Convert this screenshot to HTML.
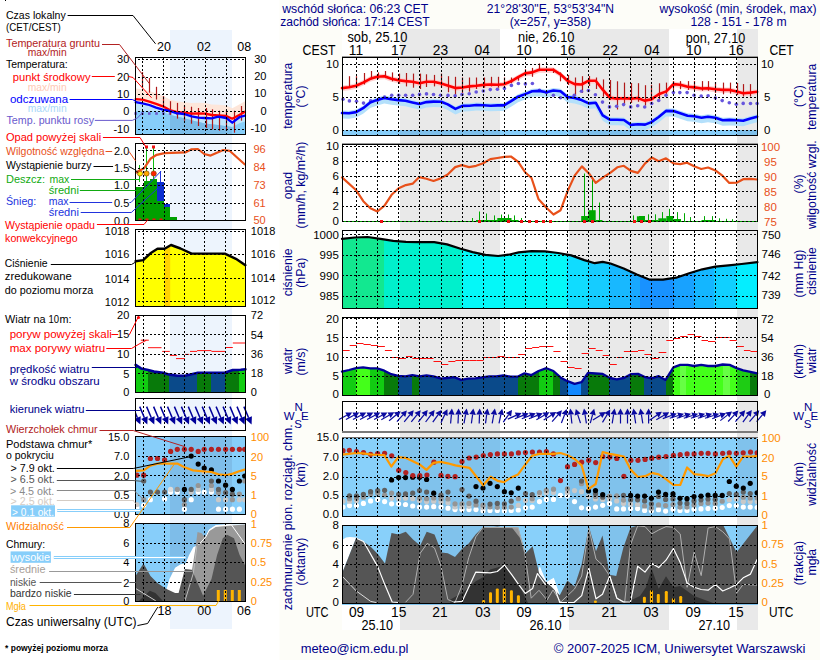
<!DOCTYPE html>
<html><head><meta charset="utf-8"><style>
html,body{margin:0;padding:0;background:#fff;}
svg{display:block;}
text{font-family:"Liberation Sans",sans-serif;}
</style></head><body>
<svg width="820" height="660" viewBox="0 0 820 660">
<rect x="0" y="0" width="820" height="660" fill="#ffffff"/>
<rect x="279.5" y="0" width="540.5" height="660" fill="#fdfdf8"/>
<rect x="342" y="29" width="416" height="601" fill="#ffffff" />
<rect x="400" y="29" width="100" height="601" fill="#e9e9e9" />
<rect x="569" y="29" width="100" height="601" fill="#e9e9e9" />
<rect x="737" y="29" width="21" height="601" fill="#e9e9e9" />
<rect x="170" y="30" width="62" height="599" fill="#edf4fd" />
<rect x="135" y="57" width="110" height="77" fill="#ffffff" />
<rect x="170" y="57" width="62" height="77" fill="#edf4fd" />
<rect x="135" y="143" width="110" height="77" fill="#ffffff" />
<rect x="170" y="143" width="62" height="77" fill="#edf4fd" />
<rect x="135" y="229" width="110" height="77" fill="#ffffff" />
<rect x="170" y="229" width="62" height="77" fill="#edf4fd" />
<rect x="135" y="315" width="110" height="77" fill="#ffffff" />
<rect x="170" y="315" width="62" height="77" fill="#edf4fd" />
<rect x="135" y="398" width="110" height="32" fill="#ffffff" />
<rect x="170" y="398" width="62" height="32" fill="#edf4fd" />
<rect x="135" y="436" width="110" height="78" fill="#ffffff" />
<rect x="170" y="436" width="62" height="78" fill="#edf4fd" />
<rect x="135" y="523" width="110" height="78" fill="#ffffff" />
<rect x="170" y="523" width="62" height="78" fill="#edf4fd" />
<rect x="343" y="130" width="414" height="5" fill="#87cefa" />
<rect x="400" y="130" width="100" height="5" fill="#7ebfea" />
<rect x="569" y="130" width="100" height="5" fill="#7ebfea" />
<rect x="737" y="130" width="20" height="5" fill="#7ebfea" />
<polygon points="342.0,85.6 349.0,84.8 356.1,83.3 363.1,80.1 370.2,76.3 377.2,74.3 384.3,73.7 391.3,76.3 398.3,77.8 405.4,78.6 412.4,79.2 419.5,80.7 426.5,79.2 433.5,79.2 441.2,81.1 448.3,83.3 455.4,85.6 462.4,85.0 469.4,83.9 476.5,83.3 483.5,82.4 490.6,82.0 497.6,82.3 504.0,81.8 511.1,78.8 518.1,74.7 525.1,70.9 532.2,69.9 539.2,67.3 546.4,67.3 553.4,67.3 560.5,71.8 567.5,78.2 574.6,81.6 581.6,82.0 588.7,78.2 595.7,78.2 602.7,87.2 609.8,95.2 616.8,96.1 623.9,95.7 630.9,96.1 638.0,95.5 644.4,98.1 651.4,96.9 658.7,91.8 666.3,88.9 673.4,81.6 680.2,82.3 687.6,84.2 694.1,84.9 701.5,86.0 708.0,85.7 715.4,86.7 722.7,87.4 729.6,87.4 736.6,88.9 743.2,90.8 750.5,90.1 757.1,89.3 757.1,94.8 750.5,95.6 743.2,96.3 736.6,94.4 729.6,92.9 722.7,92.9 715.4,92.2 708.0,91.2 701.5,91.5 694.1,90.4 687.6,89.7 680.2,87.8 673.4,87.1 666.3,94.4 658.7,97.3 651.4,102.4 644.4,103.6 638.0,101.0 630.9,101.6 623.9,101.2 616.8,101.6 609.8,100.7 602.7,92.7 595.7,83.7 588.7,83.7 581.6,87.5 574.6,87.1 567.5,83.7 560.5,77.3 553.4,72.8 546.4,72.8 539.2,72.8 532.2,75.4 525.1,76.4 518.1,80.2 511.1,84.3 504.0,87.3 497.6,87.8 490.6,87.5 483.5,87.9 476.5,88.8 469.4,89.4 462.4,90.5 455.4,91.1 448.3,88.8 441.2,86.6 433.5,84.7 426.5,84.7 419.5,86.2 412.4,84.7 405.4,84.1 398.3,83.3 391.3,81.8 384.3,79.2 377.2,79.8 370.2,81.8 363.1,85.6 356.1,88.8 349.0,90.3 342.0,91.1" fill="#ffd0d0" />
<polygon points="342.0,110.5 349.0,110.8 356.1,109.6 363.1,105.7 370.2,100.0 377.2,97.4 384.3,95.5 391.3,96.8 398.3,97.6 405.4,98.3 412.4,100.0 419.5,101.6 426.5,99.6 433.5,99.1 441.2,99.3 447.7,101.9 455.4,106.4 462.4,103.4 469.4,103.2 476.5,102.5 483.5,102.8 490.6,103.2 497.6,102.9 504.0,102.9 511.1,98.7 518.1,94.2 525.1,91.6 532.2,88.8 539.2,88.4 546.4,89.7 553.4,88.0 560.5,88.8 567.5,94.5 574.6,95.5 581.6,97.6 588.7,100.9 595.7,100.2 602.7,112.8 609.8,117.2 616.8,117.2 623.9,117.5 630.9,122.4 638.0,121.7 645.1,122.1 651.4,119.6 658.7,114.5 666.0,108.4 673.4,108.6 680.2,110.8 687.6,113.3 694.1,113.8 701.5,115.2 708.0,114.2 715.4,115.2 722.7,117.7 729.6,117.4 736.6,117.7 743.2,118.2 750.5,116.0 757.1,114.2 757.1,122.2 750.5,124.0 743.2,126.2 736.6,125.7 729.6,125.4 722.7,125.7 715.4,123.2 708.0,122.2 701.5,123.2 694.1,121.8 687.6,121.3 680.2,118.8 673.4,116.6 666.0,116.4 658.7,122.5 651.4,127.6 645.1,130.1 638.0,129.7 630.9,130.4 623.9,125.5 616.8,125.2 609.8,125.2 602.7,120.8 595.7,108.2 588.7,108.9 581.6,105.6 574.6,103.5 567.5,102.5 560.5,96.8 553.4,96.0 546.4,97.7 539.2,96.4 532.2,96.8 525.1,99.6 518.1,102.2 511.1,106.7 504.0,110.9 497.6,110.9 490.6,111.2 483.5,110.8 476.5,110.5 469.4,111.2 462.4,111.4 455.4,114.4 447.7,109.9 441.2,107.3 433.5,107.1 426.5,107.6 419.5,109.6 412.4,108.0 405.4,106.3 398.3,105.6 391.3,104.8 384.3,103.5 377.2,105.4 370.2,108.0 363.1,113.7 356.1,117.6 349.0,118.8 342.0,118.5" fill="#b4e0fb" />
<line x1="349.5" y1="76.2" x2="349.5" y2="86.2" stroke="#b01818" stroke-width="1.2" />
<line x1="356.5" y1="76.2" x2="356.5" y2="87.7" stroke="#b01818" stroke-width="1.2" />
<line x1="364.5" y1="73" x2="364.5" y2="84.5" stroke="#b01818" stroke-width="1.2" />
<line x1="371.5" y1="71" x2="371.5" y2="79.4" stroke="#b01818" stroke-width="1.2" />
<line x1="378.5" y1="72.4" x2="378.5" y2="78.8" stroke="#b01818" stroke-width="1.2" />
<line x1="385.5" y1="71" x2="385.5" y2="78.1" stroke="#b01818" stroke-width="1.2" />
<line x1="392.5" y1="72.4" x2="392.5" y2="81.3" stroke="#b01818" stroke-width="1.2" />
<line x1="399.5" y1="73.6" x2="399.5" y2="83.9" stroke="#b01818" stroke-width="1.2" />
<line x1="406.5" y1="73" x2="406.5" y2="86.4" stroke="#b01818" stroke-width="1.2" />
<line x1="413.5" y1="73.6" x2="413.5" y2="87.7" stroke="#b01818" stroke-width="1.2" />
<line x1="420.5" y1="73.6" x2="420.5" y2="89" stroke="#b01818" stroke-width="1.2" />
<line x1="426.5" y1="74.3" x2="426.5" y2="87" stroke="#b01818" stroke-width="1.2" />
<line x1="434.5" y1="74.9" x2="434.5" y2="86.4" stroke="#b01818" stroke-width="1.2" />
<line x1="441.5" y1="73.6" x2="441.5" y2="87.7" stroke="#b01818" stroke-width="1.2" />
<line x1="448.5" y1="76.2" x2="448.5" y2="92.2" stroke="#b01818" stroke-width="1.2" />
<line x1="455.5" y1="76.8" x2="455.5" y2="97.3" stroke="#b01818" stroke-width="1.2" />
<line x1="462.5" y1="77.5" x2="462.5" y2="95.4" stroke="#b01818" stroke-width="1.2" />
<line x1="469.5" y1="77.5" x2="469.5" y2="91.6" stroke="#b01818" stroke-width="1.2" />
<line x1="476.5" y1="77.5" x2="476.5" y2="89" stroke="#b01818" stroke-width="1.2" />
<line x1="484.5" y1="77.5" x2="484.5" y2="87.7" stroke="#b01818" stroke-width="1.2" />
<line x1="491.5" y1="76.8" x2="491.5" y2="86.4" stroke="#b01818" stroke-width="1.2" />
<line x1="498.5" y1="76.8" x2="498.5" y2="87.7" stroke="#b01818" stroke-width="1.2" />
<line x1="504.5" y1="77.5" x2="504.5" y2="85" stroke="#b01818" stroke-width="1.2" />
<line x1="511.5" y1="77.5" x2="511.5" y2="83.2" stroke="#b01818" stroke-width="1.2" />
<line x1="518.5" y1="76.8" x2="518.5" y2="80.7" stroke="#b01818" stroke-width="1.2" />
<line x1="525.5" y1="69.2" x2="525.5" y2="75.6" stroke="#b01818" stroke-width="1.2" />
<line x1="532.5" y1="67.9" x2="532.5" y2="76.8" stroke="#b01818" stroke-width="1.2" />
<line x1="539.5" y1="63.4" x2="539.5" y2="71.1" stroke="#b01818" stroke-width="1.2" />
<line x1="553.5" y1="68.5" x2="553.5" y2="73" stroke="#b01818" stroke-width="1.2" />
<line x1="560.5" y1="72.4" x2="560.5" y2="81.3" stroke="#b01818" stroke-width="1.2" />
<line x1="568.5" y1="75" x2="568.5" y2="85" stroke="#b01818" stroke-width="1.2" />
<line x1="575.5" y1="77.5" x2="575.5" y2="95.4" stroke="#b01818" stroke-width="1.2" />
<line x1="582.5" y1="76.2" x2="582.5" y2="92.8" stroke="#b01818" stroke-width="1.2" />
<line x1="589.5" y1="76" x2="589.5" y2="86" stroke="#b01818" stroke-width="1.2" />
<line x1="596.5" y1="77.5" x2="596.5" y2="89" stroke="#b01818" stroke-width="1.2" />
<line x1="603.5" y1="79.4" x2="603.5" y2="96.7" stroke="#b01818" stroke-width="1.2" />
<line x1="610.5" y1="80" x2="610.5" y2="100" stroke="#b01818" stroke-width="1.2" />
<line x1="617.5" y1="81.3" x2="617.5" y2="109.5" stroke="#b01818" stroke-width="1.2" />
<line x1="624.5" y1="82.6" x2="624.5" y2="104.4" stroke="#b01818" stroke-width="1.2" />
<line x1="631.5" y1="83" x2="631.5" y2="103" stroke="#b01818" stroke-width="1.2" />
<line x1="638.5" y1="83.2" x2="638.5" y2="101.8" stroke="#b01818" stroke-width="1.2" />
<line x1="645.5" y1="85.2" x2="645.5" y2="105.6" stroke="#b01818" stroke-width="1.2" />
<line x1="651.5" y1="84.8" x2="651.5" y2="100" stroke="#b01818" stroke-width="1.2" />
<line x1="659.5" y1="83.3" x2="659.5" y2="99.4" stroke="#b01818" stroke-width="1.2" />
<line x1="666.5" y1="82.6" x2="666.5" y2="95.8" stroke="#b01818" stroke-width="1.2" />
<line x1="673.5" y1="81" x2="673.5" y2="90" stroke="#b01818" stroke-width="1.2" />
<line x1="680.5" y1="81.1" x2="680.5" y2="89.2" stroke="#b01818" stroke-width="1.2" />
<line x1="688.5" y1="81.1" x2="688.5" y2="89.9" stroke="#b01818" stroke-width="1.2" />
<line x1="694.5" y1="81" x2="694.5" y2="90" stroke="#b01818" stroke-width="1.2" />
<line x1="702.5" y1="81.1" x2="702.5" y2="90.7" stroke="#b01818" stroke-width="1.2" />
<line x1="708.5" y1="81.1" x2="708.5" y2="90.7" stroke="#b01818" stroke-width="1.2" />
<line x1="715.5" y1="82" x2="715.5" y2="93" stroke="#b01818" stroke-width="1.2" />
<line x1="723.5" y1="82.6" x2="723.5" y2="94.3" stroke="#b01818" stroke-width="1.2" />
<line x1="730.5" y1="82.6" x2="730.5" y2="93.6" stroke="#b01818" stroke-width="1.2" />
<line x1="737.5" y1="83" x2="737.5" y2="95" stroke="#b01818" stroke-width="1.2" />
<line x1="743.5" y1="84.1" x2="743.5" y2="96.5" stroke="#b01818" stroke-width="1.2" />
<line x1="750.5" y1="84.1" x2="750.5" y2="96.5" stroke="#b01818" stroke-width="1.2" />
<polyline points="342.0,88.1 349.0,87.3 356.1,85.8 363.1,82.6 370.2,78.8 377.2,76.8 384.3,76.2 391.3,78.8 398.3,80.3 405.4,81.1 412.4,81.7 419.5,83.2 426.5,81.7 433.5,81.7 441.2,83.6 448.3,85.8 455.4,88.1 462.4,87.5 469.4,86.4 476.5,85.8 483.5,84.9 490.6,84.5 497.6,84.8 504.0,84.3 511.1,81.3 518.1,77.2 525.1,73.4 532.2,72.4 539.2,69.8 546.4,69.8 553.4,69.8 560.5,74.3 567.5,80.7 574.6,84.1 581.6,84.5 588.7,80.7 595.7,80.7 602.7,89.7 609.8,97.7 616.8,98.6 623.9,98.2 630.9,98.6 638.0,98.0 644.4,100.6 651.4,99.4 658.7,94.3 666.3,91.4 673.4,84.1 680.2,84.8 687.6,86.7 694.1,87.4 701.5,88.5 708.0,88.2 715.4,89.2 722.7,89.9 729.6,89.9 736.6,91.4 743.2,93.3 750.5,92.6 757.1,91.8" fill="none" stroke="#ff0000" stroke-width="2.6" stroke-linejoin="round" stroke-linecap="round" />
<circle cx="343.0" cy="99.3" r="1.8" fill="#6655dd"/>
<circle cx="349.4" cy="100.9" r="1.8" fill="#6655dd"/>
<circle cx="356.5" cy="101.2" r="1.8" fill="#6655dd"/>
<circle cx="363.5" cy="103.1" r="1.8" fill="#6655dd"/>
<circle cx="370.6" cy="100.9" r="1.8" fill="#6655dd"/>
<circle cx="377.6" cy="100.3" r="1.8" fill="#6655dd"/>
<circle cx="384.6" cy="97.0" r="1.8" fill="#6655dd"/>
<circle cx="391.7" cy="95.2" r="1.8" fill="#6655dd"/>
<circle cx="398.7" cy="95.2" r="1.8" fill="#6655dd"/>
<circle cx="405.6" cy="95.2" r="1.8" fill="#6655dd"/>
<circle cx="412.7" cy="95.2" r="1.8" fill="#6655dd"/>
<circle cx="419.5" cy="94.4" r="1.8" fill="#6655dd"/>
<circle cx="426.5" cy="93.9" r="1.8" fill="#6655dd"/>
<circle cx="433.5" cy="94.5" r="1.8" fill="#6655dd"/>
<circle cx="440.6" cy="95.2" r="1.8" fill="#6655dd"/>
<circle cx="448.0" cy="95.4" r="1.8" fill="#6655dd"/>
<circle cx="455.1" cy="95.8" r="1.8" fill="#6655dd"/>
<circle cx="462.0" cy="94.5" r="1.8" fill="#6655dd"/>
<circle cx="469.2" cy="93.7" r="1.8" fill="#6655dd"/>
<circle cx="476.2" cy="92.0" r="1.8" fill="#6655dd"/>
<circle cx="483.3" cy="91.0" r="1.8" fill="#6655dd"/>
<circle cx="490.3" cy="89.6" r="1.8" fill="#6655dd"/>
<circle cx="497.4" cy="89.3" r="1.8" fill="#6655dd"/>
<circle cx="504.4" cy="88.4" r="1.8" fill="#6655dd"/>
<circle cx="511.4" cy="85.4" r="1.8" fill="#6655dd"/>
<circle cx="518.4" cy="83.5" r="1.8" fill="#6655dd"/>
<circle cx="525.4" cy="83.9" r="1.8" fill="#6655dd"/>
<circle cx="532.4" cy="83.5" r="1.8" fill="#6655dd"/>
<circle cx="539.5" cy="90.3" r="1.8" fill="#6655dd"/>
<circle cx="546.4" cy="92.5" r="1.8" fill="#6655dd"/>
<circle cx="553.4" cy="95.2" r="1.8" fill="#6655dd"/>
<circle cx="560.5" cy="97.7" r="1.8" fill="#6655dd"/>
<circle cx="567.5" cy="97.5" r="1.8" fill="#6655dd"/>
<circle cx="574.3" cy="95.2" r="1.8" fill="#6655dd"/>
<circle cx="581.4" cy="91.3" r="1.8" fill="#6655dd"/>
<circle cx="588.4" cy="90.5" r="1.8" fill="#6655dd"/>
<circle cx="595.4" cy="94.8" r="1.8" fill="#6655dd"/>
<circle cx="602.5" cy="102.1" r="1.8" fill="#6655dd"/>
<circle cx="609.5" cy="106.9" r="1.8" fill="#6655dd"/>
<circle cx="616.6" cy="106.3" r="1.8" fill="#6655dd"/>
<circle cx="623.6" cy="104.6" r="1.8" fill="#6655dd"/>
<circle cx="630.7" cy="106.9" r="1.8" fill="#6655dd"/>
<circle cx="637.7" cy="105.7" r="1.8" fill="#6655dd"/>
<circle cx="644.7" cy="107.0" r="1.8" fill="#6655dd"/>
<circle cx="651.7" cy="103.5" r="1.8" fill="#6655dd"/>
<circle cx="658.7" cy="100.5" r="1.8" fill="#6655dd"/>
<circle cx="666.0" cy="95.3" r="1.8" fill="#6655dd"/>
<circle cx="673.4" cy="92.6" r="1.8" fill="#6655dd"/>
<circle cx="679.8" cy="92.6" r="1.8" fill="#6655dd"/>
<circle cx="687.1" cy="92.6" r="1.8" fill="#6655dd"/>
<circle cx="694.1" cy="95.3" r="1.8" fill="#6655dd"/>
<circle cx="701.2" cy="96.1" r="1.8" fill="#6655dd"/>
<circle cx="708.1" cy="95.8" r="1.8" fill="#6655dd"/>
<circle cx="715.4" cy="98.0" r="1.8" fill="#6655dd"/>
<circle cx="722.2" cy="100.6" r="1.8" fill="#6655dd"/>
<circle cx="729.3" cy="102.7" r="1.8" fill="#6655dd"/>
<circle cx="736.3" cy="104.3" r="1.8" fill="#6655dd"/>
<circle cx="743.2" cy="103.4" r="1.8" fill="#6655dd"/>
<circle cx="750.5" cy="103.5" r="1.8" fill="#6655dd"/>
<circle cx="757.1" cy="103.5" r="1.8" fill="#6655dd"/>
<polyline points="342.0,113.0 349.0,113.3 356.1,112.1 363.1,108.2 370.2,102.5 377.2,99.9 384.3,98.0 391.3,99.3 398.3,100.1 405.4,100.8 412.4,102.5 419.5,104.1 426.5,102.1 433.5,101.6 441.2,101.8 447.7,104.4 455.4,108.9 462.4,105.9 469.4,105.7 476.5,105.0 483.5,105.3 490.6,105.7 497.6,105.4 504.0,105.4 511.1,101.2 518.1,96.7 525.1,94.1 532.2,91.3 539.2,90.9 546.4,92.2 553.4,90.5 560.5,91.3 567.5,97.0 574.6,98.0 581.6,100.1 588.7,103.4 595.7,102.7 602.7,115.3 609.8,119.7 616.8,119.7 623.9,120.0 630.9,124.9 638.0,124.2 645.1,124.6 651.4,122.1 658.7,117.0 666.0,110.9 673.4,111.1 680.2,113.3 687.6,115.8 694.1,116.3 701.5,117.7 708.0,116.7 715.4,117.7 722.7,120.2 729.6,119.9 736.6,120.2 743.2,120.7 750.5,118.5 757.1,116.7" fill="none" stroke="#0000ff" stroke-width="2.6" stroke-linejoin="round" stroke-linecap="round" />
<line x1="472.5" y1="218" x2="472.5" y2="221" stroke="#00a800" stroke-width="1" />
<line x1="479.5" y1="211.5" x2="479.5" y2="221" stroke="#00a800" stroke-width="1" />
<line x1="486.5" y1="213.5" x2="486.5" y2="221" stroke="#00a800" stroke-width="1" />
<line x1="494.5" y1="215.4" x2="494.5" y2="221" stroke="#00a800" stroke-width="1" />
<line x1="501.5" y1="214.5" x2="501.5" y2="221" stroke="#00a800" stroke-width="1" />
<line x1="508.5" y1="214.5" x2="508.5" y2="221" stroke="#00a800" stroke-width="1" />
<line x1="514.5" y1="215.4" x2="514.5" y2="221" stroke="#00a800" stroke-width="1" />
<line x1="521.5" y1="218" x2="521.5" y2="221" stroke="#00a800" stroke-width="1" />
<line x1="584.5" y1="173.5" x2="584.5" y2="221" stroke="#00a800" stroke-width="1" />
<line x1="592.5" y1="178.7" x2="592.5" y2="221" stroke="#00a800" stroke-width="1" />
<line x1="599.5" y1="202.5" x2="599.5" y2="221" stroke="#00a800" stroke-width="1" />
<line x1="633.5" y1="215.4" x2="633.5" y2="221" stroke="#00a800" stroke-width="1" />
<line x1="648.5" y1="214.3" x2="648.5" y2="221" stroke="#00a800" stroke-width="1" />
<line x1="655.5" y1="214.3" x2="655.5" y2="221" stroke="#00a800" stroke-width="1" />
<line x1="662.5" y1="212.1" x2="662.5" y2="221" stroke="#00a800" stroke-width="1" />
<line x1="669.5" y1="208.8" x2="669.5" y2="221" stroke="#00a800" stroke-width="1" />
<line x1="677.5" y1="212.1" x2="677.5" y2="221" stroke="#00a800" stroke-width="1" />
<line x1="684.5" y1="213.2" x2="684.5" y2="221" stroke="#00a800" stroke-width="1" />
<line x1="690.5" y1="217.1" x2="690.5" y2="221" stroke="#00a800" stroke-width="1" />
<line x1="704.5" y1="216.1" x2="704.5" y2="221" stroke="#00a800" stroke-width="1" />
<line x1="712.5" y1="216.1" x2="712.5" y2="221" stroke="#00a800" stroke-width="1" />
<line x1="719.5" y1="218.3" x2="719.5" y2="221" stroke="#00a800" stroke-width="1" />
<line x1="726.5" y1="218.8" x2="726.5" y2="221" stroke="#00a800" stroke-width="1" />
<line x1="732.5" y1="219.2" x2="732.5" y2="221" stroke="#00a800" stroke-width="1" />
<line x1="639.5" y1="216" x2="639.5" y2="221" stroke="#00a800" stroke-width="1" />
<rect x="476" y="220" width="42.60000000000002" height="1" fill="#00a800" />
<rect x="497.3" y="218" width="14.199999999999989" height="3" fill="#00a800" />
<rect x="581.2" y="216" width="7.099999999999909" height="5" fill="#00a800" />
<rect x="588.3" y="210.2" width="7.400000000000091" height="10.800000000000011" fill="#00a800" />
<rect x="595.7" y="220" width="6.7999999999999545" height="1" fill="#00a800" />
<rect x="636.9" y="216.3" width="8.100000000000023" height="4.699999999999989" fill="#00a800" />
<rect x="640" y="216" width="5" height="5" fill="#00a800" />
<rect x="645" y="220" width="13.299999999999955" height="1" fill="#00a800" />
<rect x="658.3" y="218.3" width="8.0" height="2.6999999999999886" fill="#00a800" />
<rect x="666.3" y="216" width="7.100000000000023" height="5" fill="#00a800" />
<rect x="673.4" y="219" width="7.600000000000023" height="2" fill="#00a800" />
<rect x="701.5" y="220" width="13.899999999999977" height="1" fill="#00a800" />
<polyline points="342.0,177.4 356.2,190.3 363.3,201.2 370.4,208.3 377.4,211.5 384.5,205.7 391.6,194.8 398.7,188.3 405.8,185.1 412.9,183.6 419.3,177.1 426.4,178.7 433.5,181.0 440.6,178.4 447.7,174.5 455.2,167.1 461.9,165.1 469.0,167.1 476.1,165.8 483.2,163.2 490.3,159.1 497.3,158.0 504.4,156.8 510.9,156.5 518.0,161.6 525.1,172.2 531.5,178.0 538.6,199.3 546.4,207.7 553.5,214.5 560.6,210.2 567.7,190.9 574.8,175.4 581.9,166.4 589.0,173.5 595.7,182.8 603.1,177.4 610.2,172.9 617.3,167.3 623.8,165.8 630.9,170.9 637.9,172.9 645.1,163.4 651.7,157.6 658.7,161.2 666.0,158.3 673.4,163.4 680.2,164.1 687.1,162.7 694.1,166.3 701.2,169.0 708.1,167.5 715.4,170.4 722.7,175.9 729.3,182.9 736.6,182.7 743.2,179.2 750.5,178.8 757.1,179.5" fill="none" stroke="#e8501a" stroke-width="2.2" stroke-linejoin="round" stroke-linecap="round" />
<clipPath id="prclip"><polygon points="342.0,238.8 354.8,237.5 367.6,237.0 380.4,238.8 393.2,240.9 406.0,241.9 418.8,242.1 434.2,242.1 447.0,244.4 459.8,248.5 472.6,252.1 485.4,254.9 498.2,256.0 508.5,254.7 518.7,252.4 531.5,251.1 545.0,251.4 558.1,253.0 571.2,255.4 584.3,260.1 594.8,263.2 602.7,261.9 610.5,263.5 623.7,268.5 636.8,274.5 649.9,279.7 663.0,279.7 676.1,277.7 689.2,273.2 702.3,269.3 715.4,266.6 728.5,265.3 741.6,264.0 757.4,262.2 757.5,308.0 342.0,308.0"/></clipPath>
<g clip-path="url(#prclip)">
<rect x="342" y="230" width="42" height="80" fill="#12e890" shape-rendering="crispEdges"/>
<rect x="384" y="230" width="78" height="80" fill="#00f0cc" shape-rendering="crispEdges"/>
<rect x="462" y="230" width="105" height="80" fill="#04f8f8" shape-rendering="crispEdges"/>
<rect x="567" y="230" width="22" height="80" fill="#10dcff" shape-rendering="crispEdges"/>
<rect x="589" y="230" width="21" height="80" fill="#16ccff" shape-rendering="crispEdges"/>
<rect x="610" y="230" width="20" height="80" fill="#18b8ff" shape-rendering="crispEdges"/>
<rect x="630" y="230" width="10" height="80" fill="#18a8ff" shape-rendering="crispEdges"/>
<rect x="640" y="230" width="34" height="80" fill="#1892ff" shape-rendering="crispEdges"/>
<rect x="674" y="230" width="20" height="80" fill="#18a2ff" shape-rendering="crispEdges"/>
<rect x="694" y="230" width="20" height="80" fill="#14b6ff" shape-rendering="crispEdges"/>
<rect x="714" y="230" width="22" height="80" fill="#10d0ff" shape-rendering="crispEdges"/>
<rect x="736" y="230" width="22" height="80" fill="#04eeff" shape-rendering="crispEdges"/>
</g>
<polyline points="342.0,238.8 354.8,237.5 367.6,237.0 380.4,238.8 393.2,240.9 406.0,241.9 418.8,242.1 434.2,242.1 447.0,244.4 459.8,248.5 472.6,252.1 485.4,254.9 498.2,256.0 508.5,254.7 518.7,252.4 531.5,251.1 545.0,251.4 558.1,253.0 571.2,255.4 584.3,260.1 594.8,263.2 602.7,261.9 610.5,263.5 623.7,268.5 636.8,274.5 649.9,279.7 663.0,279.7 676.1,277.7 689.2,273.2 702.3,269.3 715.4,266.6 728.5,265.3 741.6,264.0 757.4,262.2" fill="none" stroke="#000" stroke-width="2.2" stroke-linejoin="round" stroke-linecap="round" />
<clipPath id="wclip"><polygon points="342.0,371.6 349.0,370.0 356.1,368.2 363.1,367.4 370.2,368.4 377.2,368.4 384.3,370.7 391.3,374.2 398.3,375.8 405.4,376.4 412.4,375.1 419.5,376.4 426.5,375.5 433.5,376.4 441.2,378.7 447.0,378.0 454.1,377.1 461.1,379.9 468.2,378.7 475.2,378.4 482.3,377.4 489.3,376.4 496.3,376.4 503.4,375.5 510.4,376.7 517.5,376.7 524.5,373.3 531.5,375.1 538.6,371.0 546.4,368.2 553.4,371.0 560.5,377.4 567.5,381.2 574.6,383.8 581.6,382.2 588.0,372.9 595.7,373.5 602.7,373.9 609.8,378.0 616.8,379.3 623.9,378.0 630.9,374.2 638.0,373.9 644.4,376.9 651.4,378.4 658.7,376.2 665.6,379.9 673.4,367.4 680.2,364.9 687.6,364.9 694.1,366.0 701.2,364.9 708.1,366.0 715.4,366.0 722.7,364.5 729.6,364.9 736.6,368.1 743.2,370.3 750.5,371.8 757.1,373.3 757.5,395.0 342.0,395.0"/></clipPath>
<g clip-path="url(#wclip)">
<rect x="342" y="360" width="14" height="36" fill="#12cc12" shape-rendering="crispEdges"/>
<rect x="356" y="360" width="14" height="36" fill="#44ff1a" shape-rendering="crispEdges"/>
<rect x="370" y="360" width="14" height="36" fill="#12cc12" shape-rendering="crispEdges"/>
<rect x="384" y="360" width="14" height="36" fill="#087a0a" shape-rendering="crispEdges"/>
<rect x="398" y="360" width="14" height="36" fill="#0a4a8a" shape-rendering="crispEdges"/>
<rect x="412" y="360" width="7" height="36" fill="#087a0a" shape-rendering="crispEdges"/>
<rect x="419" y="360" width="99" height="36" fill="#0a4a8a" shape-rendering="crispEdges"/>
<rect x="518" y="360" width="21" height="36" fill="#087a0a" shape-rendering="crispEdges"/>
<rect x="539" y="360" width="14" height="36" fill="#12cc12" shape-rendering="crispEdges"/>
<rect x="553" y="360" width="7" height="36" fill="#087a0a" shape-rendering="crispEdges"/>
<rect x="560" y="360" width="8" height="36" fill="#0a4a8a" shape-rendering="crispEdges"/>
<rect x="568" y="360" width="13" height="36" fill="#1188ff" shape-rendering="crispEdges"/>
<rect x="581" y="360" width="7" height="36" fill="#0a4a8a" shape-rendering="crispEdges"/>
<rect x="588" y="360" width="21" height="36" fill="#087a0a" shape-rendering="crispEdges"/>
<rect x="609" y="360" width="21" height="36" fill="#0a4a8a" shape-rendering="crispEdges"/>
<rect x="630" y="360" width="14" height="36" fill="#087a0a" shape-rendering="crispEdges"/>
<rect x="644" y="360" width="22" height="36" fill="#0a4a8a" shape-rendering="crispEdges"/>
<rect x="666" y="360" width="7" height="36" fill="#087a0a" shape-rendering="crispEdges"/>
<rect x="673" y="360" width="7" height="36" fill="#44ff1a" shape-rendering="crispEdges"/>
<rect x="680" y="360" width="6" height="36" fill="#66ff44" shape-rendering="crispEdges"/>
<rect x="686" y="360" width="37" height="36" fill="#44ff1a" shape-rendering="crispEdges"/>
<rect x="723" y="360" width="7" height="36" fill="#66ff44" shape-rendering="crispEdges"/>
<rect x="730" y="360" width="7" height="36" fill="#44ff1a" shape-rendering="crispEdges"/>
<rect x="737" y="360" width="13" height="36" fill="#1ecc14" shape-rendering="crispEdges"/>
<rect x="750" y="360" width="8" height="36" fill="#087a0a" shape-rendering="crispEdges"/>
</g>
<line x1="342.6" y1="350.5" x2="349.7" y2="350.5" stroke="#ff1010" stroke-width="1" />
<line x1="349.7" y1="345.5" x2="356.7" y2="345.5" stroke="#ff1010" stroke-width="1" />
<line x1="356.7" y1="343.5" x2="363.5" y2="343.5" stroke="#ff1010" stroke-width="1" />
<line x1="363.5" y1="344.5" x2="370.8" y2="344.5" stroke="#ff1010" stroke-width="1" />
<line x1="370.8" y1="345.5" x2="377.9" y2="345.5" stroke="#ff1010" stroke-width="1" />
<line x1="377.9" y1="346.5" x2="384.9" y2="346.5" stroke="#ff1010" stroke-width="1" />
<line x1="384.9" y1="350.5" x2="391.9" y2="350.5" stroke="#ff1010" stroke-width="1" />
<line x1="391.9" y1="357.5" x2="398.3" y2="357.5" stroke="#ff1010" stroke-width="1" />
<line x1="398.3" y1="358.5" x2="406" y2="358.5" stroke="#ff1010" stroke-width="1" />
<line x1="406" y1="356.5" x2="412.4" y2="356.5" stroke="#ff1010" stroke-width="1" />
<line x1="412.4" y1="358.5" x2="419.5" y2="358.5" stroke="#ff1010" stroke-width="1" />
<line x1="419.5" y1="358.5" x2="426.5" y2="358.5" stroke="#ff1010" stroke-width="1" />
<line x1="426.5" y1="358.5" x2="433.5" y2="358.5" stroke="#ff1010" stroke-width="1" />
<line x1="433.5" y1="361.5" x2="441.2" y2="361.5" stroke="#ff1010" stroke-width="1" />
<line x1="441.3" y1="364.5" x2="448.3" y2="364.5" stroke="#ff1010" stroke-width="1" />
<line x1="448.3" y1="361.5" x2="455.4" y2="361.5" stroke="#ff1010" stroke-width="1" />
<line x1="455.4" y1="360.5" x2="462.4" y2="360.5" stroke="#ff1010" stroke-width="1" />
<line x1="462.4" y1="360.5" x2="469.4" y2="360.5" stroke="#ff1010" stroke-width="1" />
<line x1="469.4" y1="360.5" x2="476.5" y2="360.5" stroke="#ff1010" stroke-width="1" />
<line x1="476.5" y1="360.5" x2="483.5" y2="360.5" stroke="#ff1010" stroke-width="1" />
<line x1="483.5" y1="357.5" x2="490.6" y2="357.5" stroke="#ff1010" stroke-width="1" />
<line x1="490.6" y1="357.5" x2="497.6" y2="357.5" stroke="#ff1010" stroke-width="1" />
<line x1="497.6" y1="356.5" x2="504.7" y2="356.5" stroke="#ff1010" stroke-width="1" />
<line x1="504.7" y1="357.5" x2="511.7" y2="357.5" stroke="#ff1010" stroke-width="1" />
<line x1="511.7" y1="357.5" x2="518.1" y2="357.5" stroke="#ff1010" stroke-width="1" />
<line x1="518.1" y1="354.5" x2="525.1" y2="354.5" stroke="#ff1010" stroke-width="1" />
<line x1="525.1" y1="348.5" x2="532.2" y2="348.5" stroke="#ff1010" stroke-width="1" />
<line x1="532.2" y1="347.5" x2="539.2" y2="347.5" stroke="#ff1010" stroke-width="1" />
<line x1="539.2" y1="346.5" x2="546.4" y2="346.5" stroke="#ff1010" stroke-width="1" />
<line x1="546.4" y1="346.5" x2="553.4" y2="346.5" stroke="#ff1010" stroke-width="1" />
<line x1="553.4" y1="351.5" x2="560.5" y2="351.5" stroke="#ff1010" stroke-width="1" />
<line x1="560.5" y1="361.5" x2="567.5" y2="361.5" stroke="#ff1010" stroke-width="1" />
<line x1="567.5" y1="367.5" x2="574.6" y2="367.5" stroke="#ff1010" stroke-width="1" />
<line x1="574.6" y1="368.5" x2="581.6" y2="368.5" stroke="#ff1010" stroke-width="1" />
<line x1="581.6" y1="353.5" x2="588.7" y2="353.5" stroke="#ff1010" stroke-width="1" />
<line x1="588.7" y1="348.5" x2="595.7" y2="348.5" stroke="#ff1010" stroke-width="1" />
<line x1="595.7" y1="350.5" x2="602.7" y2="350.5" stroke="#ff1010" stroke-width="1" />
<line x1="602.7" y1="355.5" x2="609.1" y2="355.5" stroke="#ff1010" stroke-width="1" />
<line x1="609.8" y1="364.5" x2="616.8" y2="364.5" stroke="#ff1010" stroke-width="1" />
<line x1="616.8" y1="357.5" x2="623.9" y2="357.5" stroke="#ff1010" stroke-width="1" />
<line x1="623.9" y1="351.5" x2="630.9" y2="351.5" stroke="#ff1010" stroke-width="1" />
<line x1="630.9" y1="351.5" x2="638" y2="351.5" stroke="#ff1010" stroke-width="1" />
<line x1="638" y1="350.5" x2="644.4" y2="350.5" stroke="#ff1010" stroke-width="1" />
<line x1="644.4" y1="354.5" x2="651.4" y2="354.5" stroke="#ff1010" stroke-width="1" />
<line x1="651.4" y1="358.5" x2="658.7" y2="358.5" stroke="#ff1010" stroke-width="1" />
<line x1="658.7" y1="352.5" x2="666.3" y2="352.5" stroke="#ff1010" stroke-width="1" />
<line x1="666.3" y1="340.5" x2="673.4" y2="340.5" stroke="#ff1010" stroke-width="1" />
<line x1="673.4" y1="338.5" x2="680.2" y2="338.5" stroke="#ff1010" stroke-width="1" />
<line x1="680.2" y1="336.5" x2="687.6" y2="336.5" stroke="#ff1010" stroke-width="1" />
<line x1="687.6" y1="334.5" x2="694.1" y2="334.5" stroke="#ff1010" stroke-width="1" />
<line x1="694.1" y1="336.5" x2="701.5" y2="336.5" stroke="#ff1010" stroke-width="1" />
<line x1="701.5" y1="340.5" x2="708" y2="340.5" stroke="#ff1010" stroke-width="1" />
<line x1="708" y1="341.5" x2="715.4" y2="341.5" stroke="#ff1010" stroke-width="1" />
<line x1="715.4" y1="337.5" x2="722.7" y2="337.5" stroke="#ff1010" stroke-width="1" />
<line x1="722.7" y1="337.5" x2="729.6" y2="337.5" stroke="#ff1010" stroke-width="1" />
<line x1="729.6" y1="340.5" x2="736.6" y2="340.5" stroke="#ff1010" stroke-width="1" />
<line x1="736.6" y1="346.5" x2="743.9" y2="346.5" stroke="#ff1010" stroke-width="1" />
<line x1="743.9" y1="350.5" x2="750.5" y2="350.5" stroke="#ff1010" stroke-width="1" />
<line x1="750.5" y1="351.5" x2="757.1" y2="351.5" stroke="#ff1010" stroke-width="1" />
<polyline points="342.0,371.6 349.0,370.0 356.1,368.2 363.1,367.4 370.2,368.4 377.2,368.4 384.3,370.7 391.3,374.2 398.3,375.8 405.4,376.4 412.4,375.1 419.5,376.4 426.5,375.5 433.5,376.4 441.2,378.7 447.0,378.0 454.1,377.1 461.1,379.9 468.2,378.7 475.2,378.4 482.3,377.4 489.3,376.4 496.3,376.4 503.4,375.5 510.4,376.7 517.5,376.7 524.5,373.3 531.5,375.1 538.6,371.0 546.4,368.2 553.4,371.0 560.5,377.4 567.5,381.2 574.6,383.8 581.6,382.2 588.0,372.9 595.7,373.5 602.7,373.9 609.8,378.0 616.8,379.3 623.9,378.0 630.9,374.2 638.0,373.9 644.4,376.9 651.4,378.4 658.7,376.2 665.6,379.9 673.4,367.4 680.2,364.9 687.6,364.9 694.1,366.0 701.2,364.9 708.1,366.0 715.4,366.0 722.7,364.5 729.6,364.9 736.6,368.1 743.2,370.3 750.5,371.8 757.1,373.3" fill="none" stroke="#000099" stroke-width="2.3" stroke-linejoin="round" stroke-linecap="round" />
<rect x="343" y="438" width="414" height="78" fill="#88d0fa" />
<rect x="400" y="438" width="100" height="78" fill="#80c2ec" shape-rendering="crispEdges"/>
<rect x="569" y="438" width="100" height="78" fill="#80c2ec" shape-rendering="crispEdges"/>
<rect x="737" y="438" width="20" height="78" fill="#80c2ec" shape-rendering="crispEdges"/>
<clipPath id="p6c"><rect x="342" y="438" width="415" height="78"/></clipPath>
<g clip-path="url(#p6c)">
<circle cx="343.0" cy="507.1" r="2.6" fill="#ffffff"/>
<circle cx="343.0" cy="501.2" r="2.6" fill="#c8c8c8"/>
<circle cx="349.5" cy="505.6" r="2.6" fill="#ffffff"/>
<circle cx="349.5" cy="501.2" r="2.6" fill="#c8c8c8"/>
<circle cx="349.5" cy="498.7" r="2.6" fill="#959595"/>
<circle cx="349.5" cy="495.8" r="2.6" fill="#606060"/>
<circle cx="356.5" cy="505.6" r="2.6" fill="#ffffff"/>
<circle cx="356.5" cy="500.5" r="2.6" fill="#c8c8c8"/>
<circle cx="356.5" cy="498.2" r="2.6" fill="#959595"/>
<circle cx="356.5" cy="495.8" r="2.6" fill="#606060"/>
<circle cx="363.4" cy="503.4" r="2.6" fill="#ffffff"/>
<circle cx="363.4" cy="497.2" r="2.6" fill="#959595"/>
<circle cx="363.4" cy="494.3" r="2.6" fill="#606060"/>
<circle cx="370.6" cy="500.9" r="2.6" fill="#ffffff"/>
<circle cx="370.6" cy="494.3" r="2.6" fill="#959595"/>
<circle cx="370.6" cy="491.7" r="2.6" fill="#606060"/>
<circle cx="377.7" cy="499.4" r="2.6" fill="#ffffff"/>
<circle cx="377.7" cy="493.2" r="2.6" fill="#959595"/>
<circle cx="377.7" cy="490.6" r="2.6" fill="#606060"/>
<circle cx="384.6" cy="501.6" r="2.6" fill="#ffffff"/>
<circle cx="384.6" cy="495.0" r="2.6" fill="#959595"/>
<circle cx="384.6" cy="490.3" r="2.6" fill="#606060"/>
<circle cx="391.6" cy="503.8" r="2.6" fill="#ffffff"/>
<circle cx="391.6" cy="498.3" r="2.6" fill="#c8c8c8"/>
<circle cx="391.6" cy="493.2" r="2.6" fill="#959595"/>
<circle cx="391.6" cy="480.0" r="2.6" fill="#000000"/>
<circle cx="398.6" cy="503.8" r="2.6" fill="#ffffff"/>
<circle cx="398.6" cy="498.7" r="2.6" fill="#c8c8c8"/>
<circle cx="398.6" cy="494.3" r="2.6" fill="#606060"/>
<circle cx="398.6" cy="477.6" r="2.6" fill="#000000"/>
<circle cx="405.5" cy="504.5" r="2.6" fill="#ffffff"/>
<circle cx="405.5" cy="498.3" r="2.6" fill="#c8c8c8"/>
<circle cx="405.5" cy="493.9" r="2.6" fill="#606060"/>
<circle cx="405.5" cy="477.6" r="2.6" fill="#000000"/>
<circle cx="412.7" cy="506.0" r="2.6" fill="#ffffff"/>
<circle cx="412.7" cy="498.7" r="2.6" fill="#c8c8c8"/>
<circle cx="412.7" cy="493.2" r="2.6" fill="#606060"/>
<circle cx="412.7" cy="477.2" r="2.6" fill="#000000"/>
<circle cx="419.5" cy="507.1" r="2.6" fill="#ffffff"/>
<circle cx="419.5" cy="500.5" r="2.6" fill="#c8c8c8"/>
<circle cx="419.5" cy="498.0" r="2.6" fill="#959595"/>
<circle cx="419.5" cy="490.6" r="2.6" fill="#606060"/>
<circle cx="419.5" cy="477.2" r="2.6" fill="#000000"/>
<circle cx="426.6" cy="507.1" r="2.6" fill="#ffffff"/>
<circle cx="426.6" cy="501.6" r="2.6" fill="#c8c8c8"/>
<circle cx="426.6" cy="498.7" r="2.6" fill="#959595"/>
<circle cx="426.6" cy="492.1" r="2.6" fill="#606060"/>
<circle cx="426.6" cy="479.5" r="2.6" fill="#000000"/>
<circle cx="433.7" cy="506.7" r="2.6" fill="#ffffff"/>
<circle cx="433.7" cy="501.2" r="2.6" fill="#c8c8c8"/>
<circle cx="433.7" cy="498.0" r="2.6" fill="#959595"/>
<circle cx="433.7" cy="493.2" r="2.6" fill="#000000"/>
<circle cx="441.0" cy="507.1" r="2.6" fill="#ffffff"/>
<circle cx="441.0" cy="502.0" r="2.6" fill="#c8c8c8"/>
<circle cx="441.0" cy="498.7" r="2.6" fill="#959595"/>
<circle cx="441.0" cy="495.0" r="2.6" fill="#606060"/>
<circle cx="448.0" cy="508.2" r="2.6" fill="#ffffff"/>
<circle cx="448.0" cy="502.7" r="2.6" fill="#c8c8c8"/>
<circle cx="448.0" cy="499.0" r="2.6" fill="#959595"/>
<circle cx="448.0" cy="492.1" r="2.6" fill="#606060"/>
<circle cx="455.0" cy="509.6" r="2.6" fill="#ffffff"/>
<circle cx="455.0" cy="507.0" r="2.6" fill="#c8c8c8"/>
<circle cx="455.0" cy="503.8" r="2.6" fill="#959595"/>
<circle cx="462.0" cy="509.6" r="2.6" fill="#ffffff"/>
<circle cx="462.0" cy="507.0" r="2.6" fill="#c8c8c8"/>
<circle cx="462.0" cy="503.8" r="2.6" fill="#959595"/>
<circle cx="462.0" cy="489.5" r="2.6" fill="#606060"/>
<circle cx="469.0" cy="509.6" r="2.6" fill="#ffffff"/>
<circle cx="469.0" cy="506.3" r="2.6" fill="#c8c8c8"/>
<circle cx="469.0" cy="503.4" r="2.6" fill="#959595"/>
<circle cx="469.0" cy="496.1" r="2.6" fill="#606060"/>
<circle cx="476.0" cy="509.6" r="2.6" fill="#ffffff"/>
<circle cx="476.0" cy="504.9" r="2.6" fill="#959595"/>
<circle cx="476.0" cy="501.2" r="2.6" fill="#606060"/>
<circle cx="476.0" cy="486.6" r="2.6" fill="#000000"/>
<circle cx="483.0" cy="510.7" r="2.6" fill="#ffffff"/>
<circle cx="483.0" cy="507.8" r="2.6" fill="#c8c8c8"/>
<circle cx="483.0" cy="505.2" r="2.6" fill="#959595"/>
<circle cx="483.0" cy="488.0" r="2.6" fill="#000000"/>
<circle cx="490.0" cy="510.4" r="2.6" fill="#ffffff"/>
<circle cx="490.0" cy="507.0" r="2.6" fill="#959595"/>
<circle cx="490.0" cy="504.1" r="2.6" fill="#606060"/>
<circle cx="490.0" cy="483.3" r="2.6" fill="#000000"/>
<circle cx="497.3" cy="510.4" r="2.6" fill="#ffffff"/>
<circle cx="497.3" cy="507.5" r="2.6" fill="#959595"/>
<circle cx="497.3" cy="503.4" r="2.6" fill="#606060"/>
<circle cx="497.3" cy="486.6" r="2.6" fill="#000000"/>
<circle cx="504.4" cy="510.7" r="2.6" fill="#ffffff"/>
<circle cx="504.4" cy="507.5" r="2.6" fill="#959595"/>
<circle cx="504.4" cy="503.8" r="2.6" fill="#606060"/>
<circle cx="504.4" cy="491.7" r="2.6" fill="#000000"/>
<circle cx="511.2" cy="510.4" r="2.6" fill="#ffffff"/>
<circle cx="511.2" cy="507.1" r="2.6" fill="#959595"/>
<circle cx="511.2" cy="501.2" r="2.6" fill="#606060"/>
<circle cx="511.2" cy="492.8" r="2.6" fill="#000000"/>
<circle cx="518.3" cy="510.0" r="2.6" fill="#ffffff"/>
<circle cx="518.3" cy="505.3" r="2.6" fill="#c8c8c8"/>
<circle cx="518.3" cy="498.7" r="2.6" fill="#959595"/>
<circle cx="518.3" cy="488.1" r="2.6" fill="#000000"/>
<circle cx="525.5" cy="507.8" r="2.6" fill="#ffffff"/>
<circle cx="525.5" cy="500.5" r="2.6" fill="#c8c8c8"/>
<circle cx="525.5" cy="493.6" r="2.6" fill="#606060"/>
<circle cx="532.2" cy="507.1" r="2.6" fill="#ffffff"/>
<circle cx="532.2" cy="500.5" r="2.6" fill="#c8c8c8"/>
<circle cx="532.2" cy="498.7" r="2.6" fill="#959595"/>
<circle cx="532.2" cy="494.7" r="2.6" fill="#606060"/>
<circle cx="539.5" cy="501.6" r="2.6" fill="#ffffff"/>
<circle cx="539.5" cy="495.0" r="2.6" fill="#c8c8c8"/>
<circle cx="539.5" cy="492.5" r="2.6" fill="#959595"/>
<circle cx="546.3" cy="499.4" r="2.6" fill="#ffffff"/>
<circle cx="546.3" cy="492.8" r="2.6" fill="#c8c8c8"/>
<circle cx="546.3" cy="490.3" r="2.6" fill="#959595"/>
<circle cx="553.5" cy="499.4" r="2.6" fill="#ffffff"/>
<circle cx="553.5" cy="492.5" r="2.6" fill="#c8c8c8"/>
<circle cx="553.5" cy="489.2" r="2.6" fill="#959595"/>
<circle cx="560.4" cy="495.4" r="2.6" fill="#ffffff"/>
<circle cx="567.4" cy="495.8" r="2.6" fill="#ffffff"/>
<circle cx="567.4" cy="492.5" r="2.6" fill="#c8c8c8"/>
<circle cx="567.4" cy="488.8" r="2.6" fill="#959595"/>
<circle cx="574.5" cy="501.6" r="2.6" fill="#ffffff"/>
<circle cx="574.5" cy="490.6" r="2.6" fill="#c8c8c8"/>
<circle cx="581.5" cy="507.8" r="2.6" fill="#ffffff"/>
<circle cx="581.5" cy="491.7" r="2.6" fill="#c8c8c8"/>
<circle cx="581.5" cy="483.7" r="2.6" fill="#959595"/>
<circle cx="581.5" cy="481.1" r="2.6" fill="#606060"/>
<circle cx="588.5" cy="508.6" r="2.6" fill="#ffffff"/>
<circle cx="588.5" cy="496.5" r="2.6" fill="#c8c8c8"/>
<circle cx="588.5" cy="491.0" r="2.6" fill="#000000"/>
<circle cx="595.5" cy="507.1" r="2.6" fill="#ffffff"/>
<circle cx="595.5" cy="499.0" r="2.6" fill="#c8c8c8"/>
<circle cx="595.5" cy="496.5" r="2.6" fill="#959595"/>
<circle cx="595.5" cy="493.5" r="2.6" fill="#606060"/>
<circle cx="595.5" cy="490.6" r="2.6" fill="#000000"/>
<circle cx="602.7" cy="505.3" r="2.6" fill="#ffffff"/>
<circle cx="602.7" cy="499.4" r="2.6" fill="#c8c8c8"/>
<circle cx="602.7" cy="497.2" r="2.6" fill="#606060"/>
<circle cx="602.7" cy="494.7" r="2.6" fill="#000000"/>
<circle cx="609.5" cy="503.4" r="2.6" fill="#ffffff"/>
<circle cx="609.5" cy="498.7" r="2.6" fill="#c8c8c8"/>
<circle cx="609.5" cy="496.1" r="2.6" fill="#959595"/>
<circle cx="616.7" cy="508.9" r="2.6" fill="#ffffff"/>
<circle cx="616.7" cy="500.9" r="2.6" fill="#c8c8c8"/>
<circle cx="616.7" cy="495.8" r="2.6" fill="#959595"/>
<circle cx="623.5" cy="508.9" r="2.6" fill="#ffffff"/>
<circle cx="623.5" cy="503.4" r="2.6" fill="#c8c8c8"/>
<circle cx="623.5" cy="500.1" r="2.6" fill="#959595"/>
<circle cx="623.5" cy="495.4" r="2.6" fill="#606060"/>
<circle cx="630.6" cy="508.6" r="2.6" fill="#ffffff"/>
<circle cx="630.6" cy="504.2" r="2.6" fill="#c8c8c8"/>
<circle cx="630.6" cy="499.8" r="2.6" fill="#606060"/>
<circle cx="630.6" cy="495.4" r="2.6" fill="#000000"/>
<circle cx="637.6" cy="508.6" r="2.6" fill="#ffffff"/>
<circle cx="637.6" cy="504.5" r="2.6" fill="#c8c8c8"/>
<circle cx="637.6" cy="499.8" r="2.6" fill="#606060"/>
<circle cx="637.6" cy="496.1" r="2.6" fill="#000000"/>
<circle cx="644.6" cy="510.4" r="2.6" fill="#ffffff"/>
<circle cx="644.6" cy="506.0" r="2.6" fill="#959595"/>
<circle cx="644.6" cy="500.9" r="2.6" fill="#606060"/>
<circle cx="644.6" cy="496.1" r="2.6" fill="#000000"/>
<circle cx="651.4" cy="510.7" r="2.6" fill="#ffffff"/>
<circle cx="651.4" cy="508.2" r="2.6" fill="#959595"/>
<circle cx="651.4" cy="503.8" r="2.6" fill="#606060"/>
<circle cx="651.4" cy="498.3" r="2.6" fill="#000000"/>
<circle cx="658.5" cy="509.7" r="2.6" fill="#ffffff"/>
<circle cx="658.5" cy="504.9" r="2.6" fill="#959595"/>
<circle cx="658.5" cy="496.5" r="2.6" fill="#606060"/>
<circle cx="658.5" cy="492.1" r="2.6" fill="#000000"/>
<circle cx="665.6" cy="511.1" r="2.6" fill="#ffffff"/>
<circle cx="665.6" cy="505.6" r="2.6" fill="#959595"/>
<circle cx="665.6" cy="499.4" r="2.6" fill="#606060"/>
<circle cx="665.6" cy="494.3" r="2.6" fill="#000000"/>
<circle cx="673.0" cy="509.3" r="2.6" fill="#ffffff"/>
<circle cx="673.0" cy="504.5" r="2.6" fill="#959595"/>
<circle cx="673.0" cy="499.0" r="2.6" fill="#606060"/>
<circle cx="673.0" cy="493.9" r="2.6" fill="#000000"/>
<circle cx="680.0" cy="510.4" r="2.6" fill="#ffffff"/>
<circle cx="680.0" cy="507.1" r="2.6" fill="#959595"/>
<circle cx="680.0" cy="503.1" r="2.6" fill="#606060"/>
<circle cx="680.0" cy="498.3" r="2.6" fill="#000000"/>
<circle cx="687.0" cy="510.4" r="2.6" fill="#ffffff"/>
<circle cx="687.0" cy="507.1" r="2.6" fill="#959595"/>
<circle cx="687.0" cy="503.4" r="2.6" fill="#606060"/>
<circle cx="687.0" cy="498.7" r="2.6" fill="#000000"/>
<circle cx="694.0" cy="509.3" r="2.6" fill="#ffffff"/>
<circle cx="694.0" cy="504.9" r="2.6" fill="#959595"/>
<circle cx="694.0" cy="500.9" r="2.6" fill="#606060"/>
<circle cx="694.0" cy="496.5" r="2.6" fill="#000000"/>
<circle cx="701.0" cy="508.9" r="2.6" fill="#ffffff"/>
<circle cx="701.0" cy="503.4" r="2.6" fill="#959595"/>
<circle cx="701.0" cy="499.8" r="2.6" fill="#606060"/>
<circle cx="701.0" cy="496.1" r="2.6" fill="#000000"/>
<circle cx="708.0" cy="508.6" r="2.6" fill="#ffffff"/>
<circle cx="708.0" cy="503.1" r="2.6" fill="#959595"/>
<circle cx="708.0" cy="499.0" r="2.6" fill="#606060"/>
<circle cx="708.0" cy="495.0" r="2.6" fill="#000000"/>
<circle cx="715.2" cy="508.2" r="2.6" fill="#ffffff"/>
<circle cx="715.2" cy="503.4" r="2.6" fill="#959595"/>
<circle cx="715.2" cy="499.4" r="2.6" fill="#606060"/>
<circle cx="715.2" cy="495.4" r="2.6" fill="#000000"/>
<circle cx="722.2" cy="507.5" r="2.6" fill="#ffffff"/>
<circle cx="722.2" cy="501.2" r="2.6" fill="#959595"/>
<circle cx="722.2" cy="495.4" r="2.6" fill="#000000"/>
<circle cx="729.3" cy="505.6" r="2.6" fill="#ffffff"/>
<circle cx="729.3" cy="499.8" r="2.6" fill="#c8c8c8"/>
<circle cx="729.3" cy="493.6" r="2.6" fill="#606060"/>
<circle cx="729.3" cy="481.5" r="2.6" fill="#000000"/>
<circle cx="736.3" cy="505.6" r="2.6" fill="#ffffff"/>
<circle cx="736.3" cy="499.0" r="2.6" fill="#c8c8c8"/>
<circle cx="736.3" cy="494.3" r="2.6" fill="#606060"/>
<circle cx="736.3" cy="486.2" r="2.6" fill="#000000"/>
<circle cx="743.3" cy="507.1" r="2.6" fill="#ffffff"/>
<circle cx="743.3" cy="501.6" r="2.6" fill="#c8c8c8"/>
<circle cx="743.3" cy="497.2" r="2.6" fill="#959595"/>
<circle cx="743.3" cy="492.1" r="2.6" fill="#606060"/>
<circle cx="743.3" cy="488.1" r="2.6" fill="#000000"/>
<circle cx="750.2" cy="507.1" r="2.6" fill="#ffffff"/>
<circle cx="750.2" cy="501.6" r="2.6" fill="#c8c8c8"/>
<circle cx="750.2" cy="498.0" r="2.6" fill="#959595"/>
<circle cx="750.2" cy="493.6" r="2.6" fill="#606060"/>
<circle cx="750.2" cy="483.3" r="2.6" fill="#000000"/>
<circle cx="757.1" cy="507.5" r="2.6" fill="#ffffff"/>
<circle cx="757.1" cy="501.6" r="2.6" fill="#c8c8c8"/>
<circle cx="757.1" cy="498.0" r="2.6" fill="#959595"/>
<circle cx="757.1" cy="492.8" r="2.6" fill="#000000"/>
<circle cx="343.0" cy="450.7" r="2.6" fill="#b22222"/>
<circle cx="349.4" cy="450.3" r="2.6" fill="#b22222"/>
<circle cx="356.5" cy="451.6" r="2.6" fill="#b22222"/>
<circle cx="363.5" cy="452.6" r="2.6" fill="#b22222"/>
<circle cx="370.6" cy="454.3" r="2.6" fill="#b22222"/>
<circle cx="377.6" cy="453.5" r="2.6" fill="#b22222"/>
<circle cx="384.6" cy="453.3" r="2.6" fill="#b22222"/>
<circle cx="391.7" cy="455.8" r="2.6" fill="#b22222"/>
<circle cx="398.7" cy="470.3" r="2.6" fill="#b22222"/>
<circle cx="405.8" cy="472.5" r="2.6" fill="#b22222"/>
<circle cx="412.8" cy="475.7" r="2.6" fill="#b22222"/>
<circle cx="419.8" cy="475.7" r="2.6" fill="#b22222"/>
<circle cx="426.9" cy="475.1" r="2.6" fill="#b22222"/>
<circle cx="433.9" cy="462.2" r="2.6" fill="#b22222"/>
<circle cx="441.0" cy="475.4" r="2.6" fill="#b22222"/>
<circle cx="447.9" cy="476.3" r="2.6" fill="#b22222"/>
<circle cx="455.1" cy="476.7" r="2.6" fill="#b22222"/>
<circle cx="462.0" cy="461.6" r="2.6" fill="#b22222"/>
<circle cx="469.2" cy="458.0" r="2.6" fill="#b22222"/>
<circle cx="476.2" cy="457.1" r="2.6" fill="#b22222"/>
<circle cx="483.3" cy="455.5" r="2.6" fill="#b22222"/>
<circle cx="490.3" cy="454.6" r="2.6" fill="#b22222"/>
<circle cx="497.4" cy="453.9" r="2.6" fill="#b22222"/>
<circle cx="504.4" cy="453.9" r="2.6" fill="#b22222"/>
<circle cx="511.4" cy="453.9" r="2.6" fill="#b22222"/>
<circle cx="518.4" cy="452.9" r="2.6" fill="#b22222"/>
<circle cx="525.4" cy="452.6" r="2.6" fill="#b22222"/>
<circle cx="532.4" cy="452.0" r="2.6" fill="#b22222"/>
<circle cx="539.5" cy="452.0" r="2.6" fill="#b22222"/>
<circle cx="546.4" cy="451.6" r="2.6" fill="#b22222"/>
<circle cx="553.4" cy="453.9" r="2.6" fill="#b22222"/>
<circle cx="560.5" cy="480.6" r="2.6" fill="#b22222"/>
<circle cx="567.5" cy="466.7" r="2.6" fill="#b22222"/>
<circle cx="574.6" cy="464.4" r="2.6" fill="#b22222"/>
<circle cx="581.6" cy="462.2" r="2.6" fill="#b22222"/>
<circle cx="588.7" cy="460.3" r="2.6" fill="#b22222"/>
<circle cx="595.7" cy="462.6" r="2.6" fill="#b22222"/>
<circle cx="602.7" cy="456.5" r="2.6" fill="#b22222"/>
<circle cx="609.8" cy="457.1" r="2.6" fill="#b22222"/>
<circle cx="616.8" cy="458.4" r="2.6" fill="#b22222"/>
<circle cx="623.9" cy="476.3" r="2.6" fill="#b22222"/>
<circle cx="630.9" cy="460.3" r="2.6" fill="#b22222"/>
<circle cx="638.0" cy="460.3" r="2.6" fill="#b22222"/>
<circle cx="645.1" cy="459.4" r="2.6" fill="#b22222"/>
<circle cx="651.7" cy="458.2" r="2.6" fill="#b22222"/>
<circle cx="658.7" cy="457.2" r="2.6" fill="#b22222"/>
<circle cx="666.0" cy="456.5" r="2.6" fill="#b22222"/>
<circle cx="673.4" cy="455.3" r="2.6" fill="#b22222"/>
<circle cx="680.2" cy="454.7" r="2.6" fill="#b22222"/>
<circle cx="687.1" cy="453.9" r="2.6" fill="#b22222"/>
<circle cx="694.1" cy="453.9" r="2.6" fill="#b22222"/>
<circle cx="701.2" cy="453.3" r="2.6" fill="#b22222"/>
<circle cx="708.1" cy="453.3" r="2.6" fill="#b22222"/>
<circle cx="715.4" cy="453.9" r="2.6" fill="#b22222"/>
<circle cx="722.7" cy="453.3" r="2.6" fill="#b22222"/>
<circle cx="729.3" cy="452.8" r="2.6" fill="#b22222"/>
<circle cx="736.3" cy="453.3" r="2.6" fill="#b22222"/>
<circle cx="743.2" cy="452.8" r="2.6" fill="#b22222"/>
<circle cx="750.5" cy="452.1" r="2.6" fill="#b22222"/>
<circle cx="757.1" cy="452.8" r="2.6" fill="#b22222"/>
<polyline points="342.0,454.6 349.0,453.9 356.1,453.0 363.1,453.3 370.2,454.3 377.2,455.0 384.3,455.2 391.3,466.5 398.3,457.1 405.4,457.8 412.4,461.0 419.5,464.4 426.5,469.9 433.5,462.9 440.6,461.9 447.7,463.3 455.4,465.4 462.4,466.7 469.4,467.8 476.5,476.7 483.3,485.3 490.6,476.7 497.6,480.8 504.0,482.1 511.1,477.6 518.1,474.4 525.1,464.8 532.2,455.8 539.2,453.9 546.4,453.9 553.4,453.9 560.5,453.0 567.5,455.2 574.6,459.0 581.6,465.4 588.4,489.1 595.7,484.0 602.7,452.0 609.8,453.9 616.8,455.2 623.9,456.5 630.9,469.9 638.0,477.0 645.1,476.2 651.7,472.9 658.7,474.3 666.0,479.2 673.4,485.0 680.2,485.0 687.1,467.5 694.1,474.1 701.2,474.8 708.1,476.2 715.4,473.3 722.7,459.4 729.3,455.8 736.3,466.7 743.2,456.5 750.5,456.5 757.1,456.2" fill="none" stroke="#ff9900" stroke-width="2.2" stroke-linejoin="round" stroke-linecap="round" />
</g>
<rect x="342" y="525" width="416" height="80" fill="#88d0fa" />
<rect x="400" y="525" width="100" height="80" fill="#80c2ec" shape-rendering="crispEdges"/>
<rect x="569" y="525" width="100" height="80" fill="#80c2ec" shape-rendering="crispEdges"/>
<rect x="737" y="525" width="21" height="80" fill="#80c2ec" shape-rendering="crispEdges"/>
<polygon points="342.0,540.0 346.0,537.5 350.0,537.0 356.3,537.6 342.0,573.4" fill="#ffffff" />
<polygon points="537.4,572.9 539.8,566.2 546.5,582.0 553.8,577.7 559.8,595.3 551.4,586.8 545.3,581.4 539.2,573.5" fill="#ffffff" />
<polygon points="546.0,588.0 553.7,579.0 558.0,592.0" fill="#ffffff" />
<polygon points="342.0,573.4 356.3,537.6 363.5,541.5 370.7,546.7 377.8,553.9 385.0,563.6 391.5,533.0 398.7,534.6 405.8,531.7 413.0,539.5 420.2,545.4 426.7,531.7 434.5,534.6 441.7,552.6 447.8,553.2 455.0,557.1 462.1,548.7 468.7,543.4 475.8,534.3 483.0,527.2 490.2,527.6 497.3,526.5 504.5,527.8 511.7,527.2 518.2,527.8 525.3,553.5 532.6,546.2 539.2,573.5 545.3,581.4 551.4,586.8 559.8,595.3 567.4,580.6 574.5,586.4 581.7,564.3 588.9,526.5 596.0,551.3 602.5,535.6 609.7,574.7 616.2,576.0 623.4,547.4 630.5,527.8 637.7,525.5 723.4,525.5 736.6,552.2 757.5,525.5 757.5,603.0 342.0,603.0" fill="#555555" />
<polygon points="511.7,527.2 518.2,527.8 525.3,553.5 520.0,538.0" fill="#999999" />
<polygon points="450.4,603.0 450.4,599.5 462.1,593.0 475.8,581.2 483.0,577.3 490.2,569.5 497.3,567.6 504.5,565.0 511.7,574.7 518.2,583.8 528.0,603.0" fill="#333333" />
<polygon points="625.0,603.0 640.0,596.1 645.9,587.3 651.7,569.0 658.7,588.8 666.0,576.3 673.4,587.3 680.2,585.9 694.1,596.1 713.2,603.0" fill="#333333" />
<polyline points="342.0,576.0 356.3,591.0 370.7,601.4 376.0,602.5" fill="none" stroke="#dddddd" stroke-width="1" stroke-linejoin="round" stroke-linecap="round" />
<polyline points="356.3,538.2 363.5,541.5 377.8,566.9 385.0,585.1 392.2,602.0 398.0,602.5" fill="none" stroke="#ffffff" stroke-width="1.2" stroke-linejoin="round" stroke-linecap="round" />
<polyline points="405.8,602.0 413.0,594.3 420.2,553.2 427.3,543.4 434.5,548.0 441.0,566.2 447.8,599.5 455.0,602.5 462.1,585.1 468.7,557.8 475.8,536.9 483.0,527.2 518.2,527.8 524.7,552.6 531.2,598.2 539.0,590.3 547.0,600.0 553.0,590.0 560.8,602.0 574.5,589.0 581.7,576.0 588.9,528.5 596.0,559.1 602.5,565.0 609.7,576.0 616.9,598.2 624.7,602.0 630.5,544.8 637.7,525.9 645.1,526.6 651.7,533.9 658.7,530.0 666.0,526.6 673.4,527.3 680.2,533.9 687.1,587.3 694.1,552.2 701.2,575.6 708.1,528.0 715.4,526.6 722.7,531.7 729.6,539.0 736.6,593.2 743.2,584.4 757.1,585.1" fill="none" stroke="#b0b0b0" stroke-width="1" stroke-linejoin="round" stroke-linecap="round" />
<polyline points="454.3,602.0 462.1,601.4 475.8,572.1 490.2,572.8 497.3,571.5 504.5,565.0 511.7,574.7 518.2,583.8 525.3,593.5 532.6,588.6 537.4,573.5 545.3,584.4 552.0,580.0 559.8,602.6 574.0,602.5 581.7,595.6 588.9,568.2 596.0,598.8 602.5,594.3 609.7,576.0 616.9,598.2 623.4,602.0 630.5,602.0 637.7,566.2 645.0,572.1 651.7,563.2 658.7,567.6 666.0,560.2 673.4,548.5 680.2,562.4 687.1,582.9 694.1,587.3 701.2,589.5 708.1,590.2 715.4,584.4 722.7,591.0 729.6,588.0 736.6,584.4 743.2,577.8 750.5,574.1 757.1,559.5" fill="none" stroke="#ffffff" stroke-width="1.2" stroke-linejoin="round" stroke-linecap="round" />
<rect x="482.1" y="600.0" width="3" height="3.0" rx="1.2" fill="#ffb400"/>
<rect x="489.0" y="592.3" width="3" height="10.7" rx="1.2" fill="#ffb400"/>
<rect x="495.8" y="588.4" width="3" height="14.6" rx="1.2" fill="#ffb400"/>
<rect x="502.7" y="588.4" width="3" height="14.6" rx="1.2" fill="#ffb400"/>
<rect x="509.9" y="590.3" width="3" height="12.7" rx="1.2" fill="#ffb400"/>
<rect x="516.9" y="595.3" width="3" height="7.7" rx="1.2" fill="#ffb400"/>
<rect x="593.9" y="600.5" width="3" height="2.5" rx="1.2" fill="#ffb400"/>
<rect x="642.9" y="596.8" width="3" height="6.2" rx="1.2" fill="#ffb400"/>
<rect x="649.9" y="590.2" width="3" height="12.8" rx="1.2" fill="#ffb400"/>
<rect x="656.8" y="593.9" width="3" height="9.1" rx="1.2" fill="#ffb400"/>
<rect x="664.8" y="591.0" width="3" height="12.0" rx="1.2" fill="#ffb400"/>
<rect x="671.9" y="598.3" width="3" height="4.7" rx="1.2" fill="#ffb400"/>
<rect x="679.2" y="596.1" width="3" height="6.9" rx="1.2" fill="#ffb400"/>
<polygon points="135.7,88.6 142.5,89.2 149.3,91.1 156.1,93.3 162.9,95.8 169.7,99.6 176.4,101.3 184.1,102.2 191.7,103.1 198.3,102.8 205.0,103.1 211.7,104.5 218.3,104.8 226.3,105.5 232.3,108.2 239.7,104.2 245.0,101.2 245.0,111.7 239.7,114.7 232.3,118.7 226.3,116.0 218.3,115.3 211.7,115.0 205.0,113.6 198.3,113.3 191.7,113.6 184.1,112.7 176.4,111.8 169.7,110.1 162.9,106.3 156.1,103.8 149.3,101.6 142.5,99.7 135.7,99.1" fill="#fde6da" />
<polygon points="135.7,99.1 142.5,99.7 149.3,101.6 156.1,103.8 162.9,106.3 169.7,110.1 176.4,111.8 184.1,112.7 191.7,113.6 198.3,113.3 205.0,113.6 211.7,115.0 218.3,115.3 226.3,116.0 232.3,118.7 239.7,114.7 245.0,111.7 245.0,117.7 239.7,119.0 232.3,124.7 226.3,120.0 218.3,118.7 211.7,120.4 205.0,120.0 198.3,119.6 191.7,118.3 184.1,116.0 176.4,115.1 169.7,113.0 162.9,111.7 156.1,109.6 149.3,107.0 142.5,105.3 135.7,104.1" fill="#fde6da" />
<polygon points="135.7,102.1 142.5,103.3 149.3,105.0 156.1,107.6 162.9,109.7 169.7,111.0 176.4,113.1 184.1,114.0 191.7,116.3 198.3,117.6 205.0,118.0 211.7,118.4 218.3,116.7 226.3,118.0 232.3,122.7 239.7,117.0 245.0,115.7 245.0,134.0 136.0,134.0" fill="#bfe6fb" />
<clipPath id="m1c"><polygon points="135.6,111.0 162.9,111.4 169.7,114.8 184.1,118.2 193.4,120.7 205.0,123.5 218.0,125.0 232.0,127.0 240.0,123.0 245.0,121.5 245.0,134.0 135.6,134.0"/></clipPath>
<rect x="135.6" y="105" width="110" height="30" fill="#87cefa" clip-path="url(#m1c)"/>
<rect x="170" y="105" width="62" height="30" fill="#7bbce8" clip-path="url(#m1c)"/>
<rect x="134.39999999999998" y="112.2" width="2.6" height="2.6" fill="#6a5acd" />
<rect x="141.2" y="112.2" width="2.6" height="2.6" fill="#6a5acd" />
<rect x="148.0" y="112.2" width="2.6" height="2.6" fill="#6a5acd" />
<rect x="155.2" y="112.2" width="2.6" height="2.6" fill="#6a5acd" />
<rect x="162.0" y="112.2" width="2.6" height="2.6" fill="#6a5acd" />
<rect x="168.79999999999998" y="112.2" width="2.6" height="2.6" fill="#6a5acd" />
<rect x="176.0" y="112.2" width="2.6" height="2.6" fill="#6a5acd" />
<rect x="182.79999999999998" y="112.2" width="2.6" height="2.6" fill="#6a5acd" />
<rect x="190.0" y="112.2" width="2.6" height="2.6" fill="#6a5acd" />
<line x1="142.5" y1="72" x2="142.5" y2="87.6" stroke="#b01818" stroke-width="1.2" />
<line x1="149.5" y1="78" x2="149.5" y2="92.7" stroke="#b01818" stroke-width="1.2" />
<line x1="156.5" y1="86.8" x2="156.5" y2="99.5" stroke="#b01818" stroke-width="1.2" />
<line x1="163.5" y1="96.1" x2="163.5" y2="107.2" stroke="#b01818" stroke-width="1.2" />
<line x1="170.5" y1="101.2" x2="170.5" y2="114.8" stroke="#b01818" stroke-width="1.2" />
<line x1="177.5" y1="102.9" x2="177.5" y2="118.6" stroke="#b01818" stroke-width="1.2" />
<line x1="184.5" y1="105.5" x2="184.5" y2="120.7" stroke="#b01818" stroke-width="1.2" />
<line x1="191.5" y1="106.7" x2="191.5" y2="123.7" stroke="#b01818" stroke-width="1.2" />
<line x1="198.5" y1="108" x2="198.5" y2="126" stroke="#b01818" stroke-width="1.2" />
<line x1="206.5" y1="108" x2="206.5" y2="128" stroke="#b01818" stroke-width="1.2" />
<line x1="212.5" y1="109.3" x2="212.5" y2="129.3" stroke="#b01818" stroke-width="1.2" />
<line x1="219.5" y1="110.7" x2="219.5" y2="130.7" stroke="#b01818" stroke-width="1.2" />
<line x1="226.5" y1="110" x2="226.5" y2="131" stroke="#b01818" stroke-width="1.2" />
<line x1="234.5" y1="110.7" x2="234.5" y2="132.7" stroke="#b01818" stroke-width="1.2" />
<line x1="241.5" y1="106" x2="241.5" y2="120.7" stroke="#b01818" stroke-width="1.2" />
<polyline points="135.7,99.1 142.5,99.7 149.3,101.6 156.1,103.8 162.9,106.3 169.7,110.1 176.4,111.8 184.1,112.7 191.7,113.6 198.3,113.3 205.0,113.6 211.7,115.0 218.3,115.3 226.3,116.0 232.3,118.7 239.7,114.7 245.0,111.7" fill="none" stroke="#ff0000" stroke-width="2.3" stroke-linejoin="round" stroke-linecap="round" />
<polyline points="135.7,102.1 142.5,103.3 149.3,105.0 156.1,107.6 162.9,109.7 169.7,111.0 176.4,113.1 184.1,114.0 191.7,116.3 198.3,117.6 205.0,118.0 211.7,118.4 218.3,116.7 226.3,118.0 232.3,122.7 239.7,117.0 245.0,115.7" fill="none" stroke="#0000ff" stroke-width="2.3" stroke-linejoin="round" stroke-linecap="round" />
<line x1="139.5" y1="165" x2="139.5" y2="182" stroke="#11bb11" stroke-width="1" />
<line x1="146.5" y1="147" x2="146.5" y2="182" stroke="#11bb11" stroke-width="1" />
<line x1="153.5" y1="147" x2="153.5" y2="182" stroke="#11bb11" stroke-width="1" />
<polygon points="136.0,187.0 144.0,187.0 144.0,181.0 150.0,181.0 150.0,179.0 157.0,179.0 157.0,201.0 164.0,201.0 164.0,207.0 170.0,207.0 170.0,217.0 177.0,217.0 177.0,220.0 136.0,220.0" fill="#00a000" shape-rendering="crispEdges"/>
<rect x="157" y="182" width="7" height="19" fill="#1030d0" shape-rendering="crispEdges"/>
<rect x="164" y="204" width="6" height="3" fill="#1030d0" shape-rendering="crispEdges"/>
<line x1="160.5" y1="171" x2="160.5" y2="182" stroke="#2233dd" stroke-width="1" />
<rect x="145.0" y="145.5" width="3" height="3" fill="#ee1111" />
<rect x="152.0" y="145.5" width="3" height="3" fill="#ee1111" />
<circle cx="140" cy="173.5" r="2.6" fill="#ffee00" stroke="#884400" stroke-width="0.7"/>
<circle cx="146.5" cy="173.5" r="2.6" fill="#ffaa00" stroke="#884400" stroke-width="0.7"/>
<circle cx="153.7" cy="173.5" r="2.6" fill="#ff2200" stroke="#884400" stroke-width="0.7"/>
<rect x="138.5" y="218.5" width="3" height="1.5" fill="#ee1111" />
<rect x="145.5" y="218.5" width="3" height="1.5" fill="#ee1111" />
<rect x="152.5" y="218.5" width="3" height="1.5" fill="#ee1111" />
<rect x="159.5" y="218.5" width="3" height="1.5" fill="#ee1111" />
<polyline points="136.0,172.5 137.7,171.5 144.0,168.3 150.4,158.8 156.7,154.8 164.6,153.2 185.2,152.4 191.6,149.3 197.9,149.0 204.2,154.0 210.6,155.6 223.3,150.0 229.6,150.8 244.6,164.3" fill="none" stroke="#e8501a" stroke-width="2.2" stroke-linejoin="round" stroke-linecap="round" />
<polygon points="135.6,261.2 143.2,260.1 150.4,253.3 157.5,248.8 164.6,248.8 171.0,245.0 180.5,248.5 191.6,253.6 224.8,253.6 235.9,258.8 245.4,265.2 245.5,306.0 135.5,306.0" fill="#ffff00" />
<clipPath id="m3c"><polygon points="135.6,261.2 143.2,260.1 150.4,253.3 157.5,248.8 164.6,248.8 171.0,245.0 180.5,248.5 191.6,253.6 224.8,253.6 235.9,258.8 245.4,265.2 245.5,306.0 135.5,306.0"/></clipPath>
<rect x="164.6" y="240" width="5.6" height="66" fill="#ffd200" clip-path="url(#m3c)"/>
<polyline points="135.6,261.2 143.2,260.1 150.4,253.3 157.5,248.8 164.6,248.8 171.0,245.0 180.5,248.5 191.6,253.6 224.8,253.6 235.9,258.8 245.4,265.2" fill="none" stroke="#000" stroke-width="2.4" stroke-linejoin="round" stroke-linecap="round" />
<clipPath id="m4c"><polygon points="135.6,364.9 141.0,368.4 148.0,370.0 154.0,371.6 163.0,372.8 168.6,374.4 177.3,375.8 185.2,375.7 191.6,374.3 197.9,372.8 210.6,372.7 224.8,372.8 232.8,370.0 240.7,369.7 245.4,369.3 245.5,392.0 135.5,392.0"/></clipPath>
<g clip-path="url(#m4c)">
<rect x="136" y="360" width="12" height="33" fill="#11cc11" shape-rendering="crispEdges"/>
<rect x="148" y="360" width="21" height="33" fill="#087a0a" shape-rendering="crispEdges"/>
<rect x="169" y="360" width="28" height="33" fill="#0a4a8a" shape-rendering="crispEdges"/>
<rect x="197" y="360" width="14" height="33" fill="#087a0a" shape-rendering="crispEdges"/>
<rect x="211" y="360" width="14" height="33" fill="#0a4a8a" shape-rendering="crispEdges"/>
<rect x="225" y="360" width="14" height="33" fill="#087a0a" shape-rendering="crispEdges"/>
<rect x="239" y="360" width="7" height="33" fill="#11cc11" shape-rendering="crispEdges"/>
</g>
<line x1="140.8" y1="340.2" x2="148.8" y2="340.2" stroke="#ff1010" stroke-width="1" />
<line x1="148" y1="347.7" x2="161.5" y2="347.7" stroke="#ff1010" stroke-width="1" />
<line x1="162.2" y1="351.4" x2="169.8" y2="351.4" stroke="#ff1010" stroke-width="1" />
<line x1="169.8" y1="355.4" x2="177" y2="355.4" stroke="#ff1010" stroke-width="1" />
<line x1="176" y1="358.6" x2="184.9" y2="358.6" stroke="#ff1010" stroke-width="1" />
<line x1="184.9" y1="354.4" x2="189.2" y2="354.4" stroke="#ff1010" stroke-width="1" />
<line x1="190" y1="351.4" x2="197.1" y2="351.4" stroke="#ff1010" stroke-width="1" />
<line x1="197.1" y1="350.6" x2="211.4" y2="350.6" stroke="#ff1010" stroke-width="1" />
<line x1="211.4" y1="351.4" x2="225.2" y2="351.4" stroke="#ff1010" stroke-width="1" />
<line x1="225.6" y1="347.5" x2="232.8" y2="347.5" stroke="#ff1010" stroke-width="1" />
<line x1="232.8" y1="343" x2="245.4" y2="343" stroke="#ff1010" stroke-width="1" />
<polyline points="135.6,364.9 141.0,368.4 148.0,370.0 154.0,371.6 163.0,372.8 168.6,374.4 177.3,375.8 185.2,375.7 191.6,374.3 197.9,372.8 210.6,372.7 224.8,372.8 232.8,370.0 240.7,369.7 245.4,369.3" fill="none" stroke="#000099" stroke-width="2.6" stroke-linejoin="round" stroke-linecap="round" />
<circle cx="138.5" cy="317.5" r="1.6" fill="#ff1010"/>
<rect x="136" y="437" width="109" height="77" fill="#87cefa" />
<rect x="170" y="437" width="62" height="77" fill="#7ebde9" />
<clipPath id="m6c"><rect x="135.5" y="437" width="110" height="77"/></clipPath>
<g clip-path="url(#m6c)">
<circle cx="136.9" cy="507.7" r="2.6" fill="#ffffff"/>
<circle cx="136.9" cy="504.5" r="2.6" fill="#c8c8c8"/>
<circle cx="136.9" cy="475.2" r="2.6" fill="#b22222"/>
<circle cx="143.7" cy="505.3" r="2.6" fill="#ffffff"/>
<circle cx="143.7" cy="499.7" r="2.6" fill="#959595"/>
<circle cx="143.7" cy="481.0" r="2.6" fill="#606060"/>
<circle cx="143.7" cy="475.2" r="2.6" fill="#b22222"/>
<circle cx="150.4" cy="499.7" r="2.6" fill="#ffffff"/>
<circle cx="150.4" cy="492.1" r="2.6" fill="#606060"/>
<circle cx="150.4" cy="458.5" r="2.6" fill="#b22222"/>
<circle cx="157.5" cy="492.1" r="2.6" fill="#606060"/>
<circle cx="157.5" cy="458.5" r="2.6" fill="#b22222"/>
<circle cx="164.6" cy="498.9" r="2.6" fill="#ffffff"/>
<circle cx="164.6" cy="492.1" r="2.6" fill="#606060"/>
<circle cx="164.6" cy="459.8" r="2.6" fill="#b22222"/>
<circle cx="170.6" cy="492.1" r="2.6" fill="#ffffff"/>
<circle cx="170.6" cy="489.4" r="2.6" fill="#dcdcdc"/>
<circle cx="170.6" cy="451.4" r="2.6" fill="#b22222"/>
<circle cx="177.3" cy="492.1" r="2.6" fill="#ffffff"/>
<circle cx="177.3" cy="489.4" r="2.6" fill="#959595"/>
<circle cx="177.3" cy="449.3" r="2.6" fill="#b22222"/>
<circle cx="184.4" cy="509.2" r="2.6" fill="#ffffff"/>
<circle cx="184.4" cy="504.5" r="2.6" fill="#959595"/>
<circle cx="184.4" cy="499.7" r="2.6" fill="#606060"/>
<circle cx="184.4" cy="489.4" r="2.6" fill="#000000"/>
<circle cx="184.4" cy="449.3" r="2.6" fill="#b22222"/>
<circle cx="191.2" cy="499.7" r="2.6" fill="#ffffff"/>
<circle cx="191.2" cy="492.1" r="2.6" fill="#c8c8c8"/>
<circle cx="191.2" cy="489.4" r="2.6" fill="#606060"/>
<circle cx="191.2" cy="456.1" r="2.6" fill="#000000"/>
<circle cx="191.2" cy="449.3" r="2.6" fill="#b22222"/>
<circle cx="198.2" cy="492.1" r="2.6" fill="#ffffff"/>
<circle cx="198.2" cy="489.4" r="2.6" fill="#c8c8c8"/>
<circle cx="198.2" cy="485.5" r="2.6" fill="#959595"/>
<circle cx="198.2" cy="464.1" r="2.6" fill="#000000"/>
<circle cx="198.2" cy="451.4" r="2.6" fill="#b22222"/>
<circle cx="204.2" cy="492.1" r="2.6" fill="#ffffff"/>
<circle cx="204.2" cy="472.0" r="2.6" fill="#c8c8c8"/>
<circle cx="204.2" cy="468.0" r="2.6" fill="#000000"/>
<circle cx="204.2" cy="449.3" r="2.6" fill="#b22222"/>
<circle cx="211.4" cy="492.1" r="2.6" fill="#ffffff"/>
<circle cx="211.4" cy="489.4" r="2.6" fill="#c8c8c8"/>
<circle cx="211.4" cy="485.5" r="2.6" fill="#959595"/>
<circle cx="211.4" cy="481.0" r="2.6" fill="#606060"/>
<circle cx="211.4" cy="469.9" r="2.6" fill="#000000"/>
<circle cx="211.4" cy="449.3" r="2.6" fill="#b22222"/>
<circle cx="218.5" cy="509.2" r="2.6" fill="#ffffff"/>
<circle cx="218.5" cy="499.7" r="2.6" fill="#c8c8c8"/>
<circle cx="218.5" cy="492.6" r="2.6" fill="#959595"/>
<circle cx="218.5" cy="489.4" r="2.6" fill="#606060"/>
<circle cx="218.5" cy="481.0" r="2.6" fill="#000000"/>
<circle cx="218.5" cy="449.3" r="2.6" fill="#b22222"/>
<circle cx="225.6" cy="509.2" r="2.6" fill="#ffffff"/>
<circle cx="225.6" cy="499.7" r="2.6" fill="#c8c8c8"/>
<circle cx="225.6" cy="492.6" r="2.6" fill="#606060"/>
<circle cx="225.6" cy="485.2" r="2.6" fill="#000000"/>
<circle cx="225.6" cy="449.3" r="2.6" fill="#b22222"/>
<circle cx="232.4" cy="509.2" r="2.6" fill="#ffffff"/>
<circle cx="232.4" cy="499.7" r="2.6" fill="#959595"/>
<circle cx="232.4" cy="494.2" r="2.6" fill="#606060"/>
<circle cx="232.4" cy="489.4" r="2.6" fill="#000000"/>
<circle cx="232.4" cy="449.3" r="2.6" fill="#b22222"/>
<circle cx="239.4" cy="509.2" r="2.6" fill="#ffffff"/>
<circle cx="239.4" cy="499.7" r="2.6" fill="#c8c8c8"/>
<circle cx="239.4" cy="494.2" r="2.6" fill="#959595"/>
<circle cx="239.4" cy="481.0" r="2.6" fill="#000000"/>
<circle cx="239.4" cy="449.3" r="2.6" fill="#b22222"/>
<circle cx="244.7" cy="499.7" r="2.6" fill="#c8c8c8"/>
<circle cx="244.7" cy="481.0" r="2.6" fill="#959595"/>
<circle cx="244.7" cy="476.0" r="2.6" fill="#000000"/>
<circle cx="244.7" cy="449.3" r="2.6" fill="#b22222"/>
<polyline points="135.6,470.9 143.7,470.4 150.4,465.7 157.5,463.6 177.3,463.6 184.4,467.2 193.1,470.4 204.2,471.5 211.4,472.0 218.5,474.4 225.6,475.2 232.8,473.6 239.1,471.2 244.7,469.6" fill="none" stroke="#ff9900" stroke-width="2.2" stroke-linejoin="round" stroke-linecap="round" />
</g>
<rect x="136" y="524" width="109" height="77" fill="#87cefa" />
<rect x="170" y="524" width="62" height="77" fill="#7ebde9" />
<polygon points="166.0,601.3 166.7,588.7 169.5,578.9 175.1,567.7 180.7,564.2 185.6,563.5 189.1,555.1 193.3,547.3 198.9,544.5 205.9,536.8 209.4,529.8 215.7,525.6 231.2,524.2 245.5,524.2 245.5,601.3" fill="#ffffff" />
<polygon points="192.0,601.3 192.0,569.8 195.5,548.0 197.5,531.9 201.7,533.3 204.5,537.0 209.4,531.0 215.7,527.0 231.2,525.5 245.5,524.5 245.5,601.3" fill="#999999" />
<polygon points="166.0,601.3 166.0,588.7 175.1,592.9 178.6,592.9 184.9,569.1 191.9,569.8 203.1,595.7 211.5,578.9 217.1,555.1 222.8,538.2 227.0,534.7 234.0,538.2 239.6,555.1 245.5,566.3 245.5,601.3" fill="#555555" />
<polygon points="135.5,601.3 135.5,576.1 143.5,563.5 150.5,576.1 157.5,583.1 166.0,588.7 166.0,601.3" fill="#555555" />
<polygon points="138.6,601.3 149.8,590.8 155.4,592.9 163.2,601.3" fill="#333333" />
<polyline points="198.9,544.5 205.9,536.8 209.4,529.8 215.7,525.6 231.2,524.5 245.0,544.0" fill="none" stroke="#ffffff" stroke-width="1" stroke-linejoin="round" stroke-linecap="round" />
<polyline points="184.9,601.0 193.3,573.3 196.8,546.6" fill="none" stroke="#bbbbbb" stroke-width="1" stroke-linejoin="round" stroke-linecap="round" />
<polyline points="136.0,588.7 155.4,600.6" fill="none" stroke="#cccccc" stroke-width="1" stroke-linejoin="round" stroke-linecap="round" />
<rect x="216.8" y="590" width="3" height="11.3" fill="#ffb400" />
<rect x="223.8" y="590" width="3" height="11.3" fill="#ffb400" />
<rect x="230.8" y="590" width="3" height="11.3" fill="#ffb400" />
<rect x="237.8" y="590" width="3" height="11.3" fill="#ffb400" />
<line x1="342" y1="64.5" x2="757" y2="64.5" stroke="#000" stroke-width="1" stroke-dasharray="2,2" shape-rendering="crispEdges"/>
<line x1="342" y1="97.5" x2="757" y2="97.5" stroke="#000" stroke-width="1" stroke-dasharray="2,2" shape-rendering="crispEdges"/>
<line x1="342" y1="130.5" x2="757" y2="130.5" stroke="#000" stroke-width="1" stroke-dasharray="2,2" shape-rendering="crispEdges"/>
<line x1="356.5" y1="58" x2="356.5" y2="135" stroke="#000" stroke-width="1" stroke-dasharray="2,2" shape-rendering="crispEdges"/>
<line x1="377.5" y1="58" x2="377.5" y2="135" stroke="#000" stroke-width="1" stroke-dasharray="2,2" shape-rendering="crispEdges"/>
<line x1="398.5" y1="58" x2="398.5" y2="135" stroke="#000" stroke-width="1" stroke-dasharray="2,2" shape-rendering="crispEdges"/>
<line x1="419.5" y1="58" x2="419.5" y2="135" stroke="#000" stroke-width="1" stroke-dasharray="2,2" shape-rendering="crispEdges"/>
<line x1="441.5" y1="58" x2="441.5" y2="135" stroke="#000" stroke-width="1" stroke-dasharray="2,2" shape-rendering="crispEdges"/>
<line x1="462.5" y1="58" x2="462.5" y2="135" stroke="#000" stroke-width="1" stroke-dasharray="2,2" shape-rendering="crispEdges"/>
<line x1="483.5" y1="58" x2="483.5" y2="135" stroke="#000" stroke-width="1" stroke-dasharray="2,2" shape-rendering="crispEdges"/>
<line x1="504.5" y1="58" x2="504.5" y2="135" stroke="#000" stroke-width="1" stroke-dasharray="2,2" shape-rendering="crispEdges"/>
<line x1="525.5" y1="58" x2="525.5" y2="135" stroke="#000" stroke-width="1" stroke-dasharray="2,2" shape-rendering="crispEdges"/>
<line x1="546.5" y1="58" x2="546.5" y2="135" stroke="#000" stroke-width="1" stroke-dasharray="2,2" shape-rendering="crispEdges"/>
<line x1="567.5" y1="58" x2="567.5" y2="135" stroke="#000" stroke-width="1" stroke-dasharray="2,2" shape-rendering="crispEdges"/>
<line x1="588.5" y1="58" x2="588.5" y2="135" stroke="#000" stroke-width="1" stroke-dasharray="2,2" shape-rendering="crispEdges"/>
<line x1="609.5" y1="58" x2="609.5" y2="135" stroke="#000" stroke-width="1" stroke-dasharray="2,2" shape-rendering="crispEdges"/>
<line x1="630.5" y1="58" x2="630.5" y2="135" stroke="#000" stroke-width="1" stroke-dasharray="2,2" shape-rendering="crispEdges"/>
<line x1="651.5" y1="58" x2="651.5" y2="135" stroke="#000" stroke-width="1" stroke-dasharray="2,2" shape-rendering="crispEdges"/>
<line x1="673.5" y1="58" x2="673.5" y2="135" stroke="#000" stroke-width="1" stroke-dasharray="2,2" shape-rendering="crispEdges"/>
<line x1="694.5" y1="58" x2="694.5" y2="135" stroke="#000" stroke-width="1" stroke-dasharray="2,2" shape-rendering="crispEdges"/>
<line x1="715.5" y1="58" x2="715.5" y2="135" stroke="#000" stroke-width="1" stroke-dasharray="2,2" shape-rendering="crispEdges"/>
<line x1="736.5" y1="58" x2="736.5" y2="135" stroke="#000" stroke-width="1" stroke-dasharray="2,2" shape-rendering="crispEdges"/>
<line x1="342" y1="146.5" x2="757" y2="146.5" stroke="#000" stroke-width="1" stroke-dasharray="2,2" shape-rendering="crispEdges"/>
<line x1="342" y1="161.5" x2="757" y2="161.5" stroke="#000" stroke-width="1" stroke-dasharray="2,2" shape-rendering="crispEdges"/>
<line x1="342" y1="176.5" x2="757" y2="176.5" stroke="#000" stroke-width="1" stroke-dasharray="2,2" shape-rendering="crispEdges"/>
<line x1="342" y1="191.5" x2="757" y2="191.5" stroke="#000" stroke-width="1" stroke-dasharray="2,2" shape-rendering="crispEdges"/>
<line x1="342" y1="206.5" x2="757" y2="206.5" stroke="#000" stroke-width="1" stroke-dasharray="2,2" shape-rendering="crispEdges"/>
<line x1="356.5" y1="144" x2="356.5" y2="221" stroke="#000" stroke-width="1" stroke-dasharray="2,2" shape-rendering="crispEdges"/>
<line x1="377.5" y1="144" x2="377.5" y2="221" stroke="#000" stroke-width="1" stroke-dasharray="2,2" shape-rendering="crispEdges"/>
<line x1="398.5" y1="144" x2="398.5" y2="221" stroke="#000" stroke-width="1" stroke-dasharray="2,2" shape-rendering="crispEdges"/>
<line x1="419.5" y1="144" x2="419.5" y2="221" stroke="#000" stroke-width="1" stroke-dasharray="2,2" shape-rendering="crispEdges"/>
<line x1="441.5" y1="144" x2="441.5" y2="221" stroke="#000" stroke-width="1" stroke-dasharray="2,2" shape-rendering="crispEdges"/>
<line x1="462.5" y1="144" x2="462.5" y2="221" stroke="#000" stroke-width="1" stroke-dasharray="2,2" shape-rendering="crispEdges"/>
<line x1="483.5" y1="144" x2="483.5" y2="221" stroke="#000" stroke-width="1" stroke-dasharray="2,2" shape-rendering="crispEdges"/>
<line x1="504.5" y1="144" x2="504.5" y2="221" stroke="#000" stroke-width="1" stroke-dasharray="2,2" shape-rendering="crispEdges"/>
<line x1="525.5" y1="144" x2="525.5" y2="221" stroke="#000" stroke-width="1" stroke-dasharray="2,2" shape-rendering="crispEdges"/>
<line x1="546.5" y1="144" x2="546.5" y2="221" stroke="#000" stroke-width="1" stroke-dasharray="2,2" shape-rendering="crispEdges"/>
<line x1="567.5" y1="144" x2="567.5" y2="221" stroke="#000" stroke-width="1" stroke-dasharray="2,2" shape-rendering="crispEdges"/>
<line x1="588.5" y1="144" x2="588.5" y2="221" stroke="#000" stroke-width="1" stroke-dasharray="2,2" shape-rendering="crispEdges"/>
<line x1="609.5" y1="144" x2="609.5" y2="221" stroke="#000" stroke-width="1" stroke-dasharray="2,2" shape-rendering="crispEdges"/>
<line x1="630.5" y1="144" x2="630.5" y2="221" stroke="#000" stroke-width="1" stroke-dasharray="2,2" shape-rendering="crispEdges"/>
<line x1="651.5" y1="144" x2="651.5" y2="221" stroke="#000" stroke-width="1" stroke-dasharray="2,2" shape-rendering="crispEdges"/>
<line x1="673.5" y1="144" x2="673.5" y2="221" stroke="#000" stroke-width="1" stroke-dasharray="2,2" shape-rendering="crispEdges"/>
<line x1="694.5" y1="144" x2="694.5" y2="221" stroke="#000" stroke-width="1" stroke-dasharray="2,2" shape-rendering="crispEdges"/>
<line x1="715.5" y1="144" x2="715.5" y2="221" stroke="#000" stroke-width="1" stroke-dasharray="2,2" shape-rendering="crispEdges"/>
<line x1="736.5" y1="144" x2="736.5" y2="221" stroke="#000" stroke-width="1" stroke-dasharray="2,2" shape-rendering="crispEdges"/>
<line x1="342" y1="234.5" x2="757" y2="234.5" stroke="#000" stroke-width="1" stroke-dasharray="2,2" shape-rendering="crispEdges"/>
<line x1="342" y1="255.5" x2="757" y2="255.5" stroke="#000" stroke-width="1" stroke-dasharray="2,2" shape-rendering="crispEdges"/>
<line x1="342" y1="275.5" x2="757" y2="275.5" stroke="#000" stroke-width="1" stroke-dasharray="2,2" shape-rendering="crispEdges"/>
<line x1="342" y1="296.5" x2="757" y2="296.5" stroke="#000" stroke-width="1" stroke-dasharray="2,2" shape-rendering="crispEdges"/>
<line x1="356.5" y1="231" x2="356.5" y2="308" stroke="#000" stroke-width="1" stroke-dasharray="2,2" shape-rendering="crispEdges"/>
<line x1="377.5" y1="231" x2="377.5" y2="308" stroke="#000" stroke-width="1" stroke-dasharray="2,2" shape-rendering="crispEdges"/>
<line x1="398.5" y1="231" x2="398.5" y2="308" stroke="#000" stroke-width="1" stroke-dasharray="2,2" shape-rendering="crispEdges"/>
<line x1="419.5" y1="231" x2="419.5" y2="308" stroke="#000" stroke-width="1" stroke-dasharray="2,2" shape-rendering="crispEdges"/>
<line x1="441.5" y1="231" x2="441.5" y2="308" stroke="#000" stroke-width="1" stroke-dasharray="2,2" shape-rendering="crispEdges"/>
<line x1="462.5" y1="231" x2="462.5" y2="308" stroke="#000" stroke-width="1" stroke-dasharray="2,2" shape-rendering="crispEdges"/>
<line x1="483.5" y1="231" x2="483.5" y2="308" stroke="#000" stroke-width="1" stroke-dasharray="2,2" shape-rendering="crispEdges"/>
<line x1="504.5" y1="231" x2="504.5" y2="308" stroke="#000" stroke-width="1" stroke-dasharray="2,2" shape-rendering="crispEdges"/>
<line x1="525.5" y1="231" x2="525.5" y2="308" stroke="#000" stroke-width="1" stroke-dasharray="2,2" shape-rendering="crispEdges"/>
<line x1="546.5" y1="231" x2="546.5" y2="308" stroke="#000" stroke-width="1" stroke-dasharray="2,2" shape-rendering="crispEdges"/>
<line x1="567.5" y1="231" x2="567.5" y2="308" stroke="#000" stroke-width="1" stroke-dasharray="2,2" shape-rendering="crispEdges"/>
<line x1="588.5" y1="231" x2="588.5" y2="308" stroke="#000" stroke-width="1" stroke-dasharray="2,2" shape-rendering="crispEdges"/>
<line x1="609.5" y1="231" x2="609.5" y2="308" stroke="#000" stroke-width="1" stroke-dasharray="2,2" shape-rendering="crispEdges"/>
<line x1="630.5" y1="231" x2="630.5" y2="308" stroke="#000" stroke-width="1" stroke-dasharray="2,2" shape-rendering="crispEdges"/>
<line x1="651.5" y1="231" x2="651.5" y2="308" stroke="#000" stroke-width="1" stroke-dasharray="2,2" shape-rendering="crispEdges"/>
<line x1="673.5" y1="231" x2="673.5" y2="308" stroke="#000" stroke-width="1" stroke-dasharray="2,2" shape-rendering="crispEdges"/>
<line x1="694.5" y1="231" x2="694.5" y2="308" stroke="#000" stroke-width="1" stroke-dasharray="2,2" shape-rendering="crispEdges"/>
<line x1="715.5" y1="231" x2="715.5" y2="308" stroke="#000" stroke-width="1" stroke-dasharray="2,2" shape-rendering="crispEdges"/>
<line x1="736.5" y1="231" x2="736.5" y2="308" stroke="#000" stroke-width="1" stroke-dasharray="2,2" shape-rendering="crispEdges"/>
<line x1="342" y1="318.5" x2="757" y2="318.5" stroke="#000" stroke-width="1" stroke-dasharray="2,2" shape-rendering="crispEdges"/>
<line x1="342" y1="337.5" x2="757" y2="337.5" stroke="#000" stroke-width="1" stroke-dasharray="2,2" shape-rendering="crispEdges"/>
<line x1="342" y1="357.5" x2="757" y2="357.5" stroke="#000" stroke-width="1" stroke-dasharray="2,2" shape-rendering="crispEdges"/>
<line x1="342" y1="376.5" x2="757" y2="376.5" stroke="#000" stroke-width="1" stroke-dasharray="2,2" shape-rendering="crispEdges"/>
<line x1="356.5" y1="318" x2="356.5" y2="395" stroke="#000" stroke-width="1" stroke-dasharray="2,2" shape-rendering="crispEdges"/>
<line x1="377.5" y1="318" x2="377.5" y2="395" stroke="#000" stroke-width="1" stroke-dasharray="2,2" shape-rendering="crispEdges"/>
<line x1="398.5" y1="318" x2="398.5" y2="395" stroke="#000" stroke-width="1" stroke-dasharray="2,2" shape-rendering="crispEdges"/>
<line x1="419.5" y1="318" x2="419.5" y2="395" stroke="#000" stroke-width="1" stroke-dasharray="2,2" shape-rendering="crispEdges"/>
<line x1="441.5" y1="318" x2="441.5" y2="395" stroke="#000" stroke-width="1" stroke-dasharray="2,2" shape-rendering="crispEdges"/>
<line x1="462.5" y1="318" x2="462.5" y2="395" stroke="#000" stroke-width="1" stroke-dasharray="2,2" shape-rendering="crispEdges"/>
<line x1="483.5" y1="318" x2="483.5" y2="395" stroke="#000" stroke-width="1" stroke-dasharray="2,2" shape-rendering="crispEdges"/>
<line x1="504.5" y1="318" x2="504.5" y2="395" stroke="#000" stroke-width="1" stroke-dasharray="2,2" shape-rendering="crispEdges"/>
<line x1="525.5" y1="318" x2="525.5" y2="395" stroke="#000" stroke-width="1" stroke-dasharray="2,2" shape-rendering="crispEdges"/>
<line x1="546.5" y1="318" x2="546.5" y2="395" stroke="#000" stroke-width="1" stroke-dasharray="2,2" shape-rendering="crispEdges"/>
<line x1="567.5" y1="318" x2="567.5" y2="395" stroke="#000" stroke-width="1" stroke-dasharray="2,2" shape-rendering="crispEdges"/>
<line x1="588.5" y1="318" x2="588.5" y2="395" stroke="#000" stroke-width="1" stroke-dasharray="2,2" shape-rendering="crispEdges"/>
<line x1="609.5" y1="318" x2="609.5" y2="395" stroke="#000" stroke-width="1" stroke-dasharray="2,2" shape-rendering="crispEdges"/>
<line x1="630.5" y1="318" x2="630.5" y2="395" stroke="#000" stroke-width="1" stroke-dasharray="2,2" shape-rendering="crispEdges"/>
<line x1="651.5" y1="318" x2="651.5" y2="395" stroke="#000" stroke-width="1" stroke-dasharray="2,2" shape-rendering="crispEdges"/>
<line x1="673.5" y1="318" x2="673.5" y2="395" stroke="#000" stroke-width="1" stroke-dasharray="2,2" shape-rendering="crispEdges"/>
<line x1="694.5" y1="318" x2="694.5" y2="395" stroke="#000" stroke-width="1" stroke-dasharray="2,2" shape-rendering="crispEdges"/>
<line x1="715.5" y1="318" x2="715.5" y2="395" stroke="#000" stroke-width="1" stroke-dasharray="2,2" shape-rendering="crispEdges"/>
<line x1="736.5" y1="318" x2="736.5" y2="395" stroke="#000" stroke-width="1" stroke-dasharray="2,2" shape-rendering="crispEdges"/>
<line x1="356.5" y1="403" x2="356.5" y2="432" stroke="#000" stroke-width="1" stroke-dasharray="2,2" shape-rendering="crispEdges"/>
<line x1="377.5" y1="403" x2="377.5" y2="432" stroke="#000" stroke-width="1" stroke-dasharray="2,2" shape-rendering="crispEdges"/>
<line x1="398.5" y1="403" x2="398.5" y2="432" stroke="#000" stroke-width="1" stroke-dasharray="2,2" shape-rendering="crispEdges"/>
<line x1="419.5" y1="403" x2="419.5" y2="432" stroke="#000" stroke-width="1" stroke-dasharray="2,2" shape-rendering="crispEdges"/>
<line x1="441.5" y1="403" x2="441.5" y2="432" stroke="#000" stroke-width="1" stroke-dasharray="2,2" shape-rendering="crispEdges"/>
<line x1="462.5" y1="403" x2="462.5" y2="432" stroke="#000" stroke-width="1" stroke-dasharray="2,2" shape-rendering="crispEdges"/>
<line x1="483.5" y1="403" x2="483.5" y2="432" stroke="#000" stroke-width="1" stroke-dasharray="2,2" shape-rendering="crispEdges"/>
<line x1="504.5" y1="403" x2="504.5" y2="432" stroke="#000" stroke-width="1" stroke-dasharray="2,2" shape-rendering="crispEdges"/>
<line x1="525.5" y1="403" x2="525.5" y2="432" stroke="#000" stroke-width="1" stroke-dasharray="2,2" shape-rendering="crispEdges"/>
<line x1="546.5" y1="403" x2="546.5" y2="432" stroke="#000" stroke-width="1" stroke-dasharray="2,2" shape-rendering="crispEdges"/>
<line x1="567.5" y1="403" x2="567.5" y2="432" stroke="#000" stroke-width="1" stroke-dasharray="2,2" shape-rendering="crispEdges"/>
<line x1="588.5" y1="403" x2="588.5" y2="432" stroke="#000" stroke-width="1" stroke-dasharray="2,2" shape-rendering="crispEdges"/>
<line x1="609.5" y1="403" x2="609.5" y2="432" stroke="#000" stroke-width="1" stroke-dasharray="2,2" shape-rendering="crispEdges"/>
<line x1="630.5" y1="403" x2="630.5" y2="432" stroke="#000" stroke-width="1" stroke-dasharray="2,2" shape-rendering="crispEdges"/>
<line x1="651.5" y1="403" x2="651.5" y2="432" stroke="#000" stroke-width="1" stroke-dasharray="2,2" shape-rendering="crispEdges"/>
<line x1="673.5" y1="403" x2="673.5" y2="432" stroke="#000" stroke-width="1" stroke-dasharray="2,2" shape-rendering="crispEdges"/>
<line x1="694.5" y1="403" x2="694.5" y2="432" stroke="#000" stroke-width="1" stroke-dasharray="2,2" shape-rendering="crispEdges"/>
<line x1="715.5" y1="403" x2="715.5" y2="432" stroke="#000" stroke-width="1" stroke-dasharray="2,2" shape-rendering="crispEdges"/>
<line x1="736.5" y1="403" x2="736.5" y2="432" stroke="#000" stroke-width="1" stroke-dasharray="2,2" shape-rendering="crispEdges"/>
<line x1="342" y1="457.5" x2="757" y2="457.5" stroke="#000" stroke-width="1" stroke-dasharray="2,2" shape-rendering="crispEdges"/>
<line x1="342" y1="477.5" x2="757" y2="477.5" stroke="#000" stroke-width="1" stroke-dasharray="2,2" shape-rendering="crispEdges"/>
<line x1="342" y1="496.5" x2="757" y2="496.5" stroke="#000" stroke-width="1" stroke-dasharray="2,2" shape-rendering="crispEdges"/>
<line x1="356.5" y1="439" x2="356.5" y2="516" stroke="#000" stroke-width="1" stroke-dasharray="2,2" shape-rendering="crispEdges"/>
<line x1="377.5" y1="439" x2="377.5" y2="516" stroke="#000" stroke-width="1" stroke-dasharray="2,2" shape-rendering="crispEdges"/>
<line x1="398.5" y1="439" x2="398.5" y2="516" stroke="#000" stroke-width="1" stroke-dasharray="2,2" shape-rendering="crispEdges"/>
<line x1="419.5" y1="439" x2="419.5" y2="516" stroke="#000" stroke-width="1" stroke-dasharray="2,2" shape-rendering="crispEdges"/>
<line x1="441.5" y1="439" x2="441.5" y2="516" stroke="#000" stroke-width="1" stroke-dasharray="2,2" shape-rendering="crispEdges"/>
<line x1="462.5" y1="439" x2="462.5" y2="516" stroke="#000" stroke-width="1" stroke-dasharray="2,2" shape-rendering="crispEdges"/>
<line x1="483.5" y1="439" x2="483.5" y2="516" stroke="#000" stroke-width="1" stroke-dasharray="2,2" shape-rendering="crispEdges"/>
<line x1="504.5" y1="439" x2="504.5" y2="516" stroke="#000" stroke-width="1" stroke-dasharray="2,2" shape-rendering="crispEdges"/>
<line x1="525.5" y1="439" x2="525.5" y2="516" stroke="#000" stroke-width="1" stroke-dasharray="2,2" shape-rendering="crispEdges"/>
<line x1="546.5" y1="439" x2="546.5" y2="516" stroke="#000" stroke-width="1" stroke-dasharray="2,2" shape-rendering="crispEdges"/>
<line x1="567.5" y1="439" x2="567.5" y2="516" stroke="#000" stroke-width="1" stroke-dasharray="2,2" shape-rendering="crispEdges"/>
<line x1="588.5" y1="439" x2="588.5" y2="516" stroke="#000" stroke-width="1" stroke-dasharray="2,2" shape-rendering="crispEdges"/>
<line x1="609.5" y1="439" x2="609.5" y2="516" stroke="#000" stroke-width="1" stroke-dasharray="2,2" shape-rendering="crispEdges"/>
<line x1="630.5" y1="439" x2="630.5" y2="516" stroke="#000" stroke-width="1" stroke-dasharray="2,2" shape-rendering="crispEdges"/>
<line x1="651.5" y1="439" x2="651.5" y2="516" stroke="#000" stroke-width="1" stroke-dasharray="2,2" shape-rendering="crispEdges"/>
<line x1="673.5" y1="439" x2="673.5" y2="516" stroke="#000" stroke-width="1" stroke-dasharray="2,2" shape-rendering="crispEdges"/>
<line x1="694.5" y1="439" x2="694.5" y2="516" stroke="#000" stroke-width="1" stroke-dasharray="2,2" shape-rendering="crispEdges"/>
<line x1="715.5" y1="439" x2="715.5" y2="516" stroke="#000" stroke-width="1" stroke-dasharray="2,2" shape-rendering="crispEdges"/>
<line x1="736.5" y1="439" x2="736.5" y2="516" stroke="#000" stroke-width="1" stroke-dasharray="2,2" shape-rendering="crispEdges"/>
<line x1="342" y1="545.5" x2="757" y2="545.5" stroke="#000" stroke-width="1" stroke-dasharray="2,2" shape-rendering="crispEdges"/>
<line x1="342" y1="564.5" x2="757" y2="564.5" stroke="#000" stroke-width="1" stroke-dasharray="2,2" shape-rendering="crispEdges"/>
<line x1="342" y1="584.5" x2="757" y2="584.5" stroke="#000" stroke-width="1" stroke-dasharray="2,2" shape-rendering="crispEdges"/>
<line x1="356.5" y1="526" x2="356.5" y2="603" stroke="#000" stroke-width="1" stroke-dasharray="2,2" shape-rendering="crispEdges"/>
<line x1="377.5" y1="526" x2="377.5" y2="603" stroke="#000" stroke-width="1" stroke-dasharray="2,2" shape-rendering="crispEdges"/>
<line x1="398.5" y1="526" x2="398.5" y2="603" stroke="#000" stroke-width="1" stroke-dasharray="2,2" shape-rendering="crispEdges"/>
<line x1="419.5" y1="526" x2="419.5" y2="603" stroke="#000" stroke-width="1" stroke-dasharray="2,2" shape-rendering="crispEdges"/>
<line x1="441.5" y1="526" x2="441.5" y2="603" stroke="#000" stroke-width="1" stroke-dasharray="2,2" shape-rendering="crispEdges"/>
<line x1="462.5" y1="526" x2="462.5" y2="603" stroke="#000" stroke-width="1" stroke-dasharray="2,2" shape-rendering="crispEdges"/>
<line x1="483.5" y1="526" x2="483.5" y2="603" stroke="#000" stroke-width="1" stroke-dasharray="2,2" shape-rendering="crispEdges"/>
<line x1="504.5" y1="526" x2="504.5" y2="603" stroke="#000" stroke-width="1" stroke-dasharray="2,2" shape-rendering="crispEdges"/>
<line x1="525.5" y1="526" x2="525.5" y2="603" stroke="#000" stroke-width="1" stroke-dasharray="2,2" shape-rendering="crispEdges"/>
<line x1="546.5" y1="526" x2="546.5" y2="603" stroke="#000" stroke-width="1" stroke-dasharray="2,2" shape-rendering="crispEdges"/>
<line x1="567.5" y1="526" x2="567.5" y2="603" stroke="#000" stroke-width="1" stroke-dasharray="2,2" shape-rendering="crispEdges"/>
<line x1="588.5" y1="526" x2="588.5" y2="603" stroke="#000" stroke-width="1" stroke-dasharray="2,2" shape-rendering="crispEdges"/>
<line x1="609.5" y1="526" x2="609.5" y2="603" stroke="#000" stroke-width="1" stroke-dasharray="2,2" shape-rendering="crispEdges"/>
<line x1="630.5" y1="526" x2="630.5" y2="603" stroke="#000" stroke-width="1" stroke-dasharray="2,2" shape-rendering="crispEdges"/>
<line x1="651.5" y1="526" x2="651.5" y2="603" stroke="#000" stroke-width="1" stroke-dasharray="2,2" shape-rendering="crispEdges"/>
<line x1="673.5" y1="526" x2="673.5" y2="603" stroke="#000" stroke-width="1" stroke-dasharray="2,2" shape-rendering="crispEdges"/>
<line x1="694.5" y1="526" x2="694.5" y2="603" stroke="#000" stroke-width="1" stroke-dasharray="2,2" shape-rendering="crispEdges"/>
<line x1="715.5" y1="526" x2="715.5" y2="603" stroke="#000" stroke-width="1" stroke-dasharray="2,2" shape-rendering="crispEdges"/>
<line x1="736.5" y1="526" x2="736.5" y2="603" stroke="#000" stroke-width="1" stroke-dasharray="2,2" shape-rendering="crispEdges"/>
<line x1="135" y1="59.5" x2="245" y2="59.5" stroke="#000" stroke-width="1" stroke-dasharray="2,2" stroke-dashoffset="1" shape-rendering="crispEdges"/>
<line x1="135" y1="77.5" x2="245" y2="77.5" stroke="#000" stroke-width="1" stroke-dasharray="2,2" stroke-dashoffset="1" shape-rendering="crispEdges"/>
<line x1="135" y1="94.5" x2="245" y2="94.5" stroke="#000" stroke-width="1" stroke-dasharray="2,2" stroke-dashoffset="1" shape-rendering="crispEdges"/>
<line x1="135" y1="111.5" x2="245" y2="111.5" stroke="#000" stroke-width="1" stroke-dasharray="2,2" stroke-dashoffset="1" shape-rendering="crispEdges"/>
<line x1="135" y1="129.5" x2="245" y2="129.5" stroke="#000" stroke-width="1" stroke-dasharray="2,2" stroke-dashoffset="1" shape-rendering="crispEdges"/>
<line x1="142.5" y1="57" x2="142.5" y2="134" stroke="#000" stroke-width="1" stroke-dasharray="2,2" shape-rendering="crispEdges"/>
<line x1="163.5" y1="57" x2="163.5" y2="134" stroke="#000" stroke-width="1" stroke-dasharray="2,2" shape-rendering="crispEdges"/>
<line x1="184.5" y1="57" x2="184.5" y2="134" stroke="#000" stroke-width="1" stroke-dasharray="2,2" shape-rendering="crispEdges"/>
<line x1="205.5" y1="57" x2="205.5" y2="134" stroke="#000" stroke-width="1" stroke-dasharray="2,2" shape-rendering="crispEdges"/>
<line x1="226.5" y1="57" x2="226.5" y2="134" stroke="#000" stroke-width="1" stroke-dasharray="2,2" shape-rendering="crispEdges"/>
<line x1="135" y1="150.5" x2="245" y2="150.5" stroke="#000" stroke-width="1" stroke-dasharray="2,2" stroke-dashoffset="1" shape-rendering="crispEdges"/>
<line x1="135" y1="168.5" x2="245" y2="168.5" stroke="#000" stroke-width="1" stroke-dasharray="2,2" stroke-dashoffset="1" shape-rendering="crispEdges"/>
<line x1="135" y1="185.5" x2="245" y2="185.5" stroke="#000" stroke-width="1" stroke-dasharray="2,2" stroke-dashoffset="1" shape-rendering="crispEdges"/>
<line x1="135" y1="203.5" x2="245" y2="203.5" stroke="#000" stroke-width="1" stroke-dasharray="2,2" stroke-dashoffset="1" shape-rendering="crispEdges"/>
<line x1="143.5" y1="143" x2="143.5" y2="220" stroke="#000" stroke-width="1" stroke-dasharray="2,2" shape-rendering="crispEdges"/>
<line x1="164.5" y1="143" x2="164.5" y2="220" stroke="#000" stroke-width="1" stroke-dasharray="2,2" shape-rendering="crispEdges"/>
<line x1="184.5" y1="143" x2="184.5" y2="220" stroke="#000" stroke-width="1" stroke-dasharray="2,2" shape-rendering="crispEdges"/>
<line x1="204.5" y1="143" x2="204.5" y2="220" stroke="#000" stroke-width="1" stroke-dasharray="2,2" shape-rendering="crispEdges"/>
<line x1="225.5" y1="143" x2="225.5" y2="220" stroke="#000" stroke-width="1" stroke-dasharray="2,2" shape-rendering="crispEdges"/>
<line x1="135" y1="231.5" x2="245" y2="231.5" stroke="#000" stroke-width="1" stroke-dasharray="2,2" stroke-dashoffset="1" shape-rendering="crispEdges"/>
<line x1="135" y1="254.5" x2="245" y2="254.5" stroke="#000" stroke-width="1" stroke-dasharray="2,2" stroke-dashoffset="1" shape-rendering="crispEdges"/>
<line x1="135" y1="278.5" x2="245" y2="278.5" stroke="#000" stroke-width="1" stroke-dasharray="2,2" stroke-dashoffset="1" shape-rendering="crispEdges"/>
<line x1="135" y1="301.5" x2="245" y2="301.5" stroke="#000" stroke-width="1" stroke-dasharray="2,2" stroke-dashoffset="1" shape-rendering="crispEdges"/>
<line x1="143.5" y1="229" x2="143.5" y2="306" stroke="#000" stroke-width="1" stroke-dasharray="2,2" shape-rendering="crispEdges"/>
<line x1="164.5" y1="229" x2="164.5" y2="306" stroke="#000" stroke-width="1" stroke-dasharray="2,2" shape-rendering="crispEdges"/>
<line x1="184.5" y1="229" x2="184.5" y2="306" stroke="#000" stroke-width="1" stroke-dasharray="2,2" shape-rendering="crispEdges"/>
<line x1="204.5" y1="229" x2="204.5" y2="306" stroke="#000" stroke-width="1" stroke-dasharray="2,2" shape-rendering="crispEdges"/>
<line x1="225.5" y1="229" x2="225.5" y2="306" stroke="#000" stroke-width="1" stroke-dasharray="2,2" shape-rendering="crispEdges"/>
<line x1="135" y1="334.5" x2="245" y2="334.5" stroke="#000" stroke-width="1" stroke-dasharray="2,2" stroke-dashoffset="1" shape-rendering="crispEdges"/>
<line x1="135" y1="354.5" x2="245" y2="354.5" stroke="#000" stroke-width="1" stroke-dasharray="2,2" stroke-dashoffset="1" shape-rendering="crispEdges"/>
<line x1="135" y1="373.5" x2="245" y2="373.5" stroke="#000" stroke-width="1" stroke-dasharray="2,2" stroke-dashoffset="1" shape-rendering="crispEdges"/>
<line x1="143.5" y1="315" x2="143.5" y2="392" stroke="#000" stroke-width="1" stroke-dasharray="2,2" shape-rendering="crispEdges"/>
<line x1="164.5" y1="315" x2="164.5" y2="392" stroke="#000" stroke-width="1" stroke-dasharray="2,2" shape-rendering="crispEdges"/>
<line x1="184.5" y1="315" x2="184.5" y2="392" stroke="#000" stroke-width="1" stroke-dasharray="2,2" shape-rendering="crispEdges"/>
<line x1="204.5" y1="315" x2="204.5" y2="392" stroke="#000" stroke-width="1" stroke-dasharray="2,2" shape-rendering="crispEdges"/>
<line x1="225.5" y1="315" x2="225.5" y2="392" stroke="#000" stroke-width="1" stroke-dasharray="2,2" shape-rendering="crispEdges"/>
<line x1="143.5" y1="398" x2="143.5" y2="430" stroke="#000" stroke-width="1" stroke-dasharray="2,2" shape-rendering="crispEdges"/>
<line x1="164.5" y1="398" x2="164.5" y2="430" stroke="#000" stroke-width="1" stroke-dasharray="2,2" shape-rendering="crispEdges"/>
<line x1="184.5" y1="398" x2="184.5" y2="430" stroke="#000" stroke-width="1" stroke-dasharray="2,2" shape-rendering="crispEdges"/>
<line x1="204.5" y1="398" x2="204.5" y2="430" stroke="#000" stroke-width="1" stroke-dasharray="2,2" shape-rendering="crispEdges"/>
<line x1="225.5" y1="398" x2="225.5" y2="430" stroke="#000" stroke-width="1" stroke-dasharray="2,2" shape-rendering="crispEdges"/>
<line x1="135" y1="456.5" x2="245" y2="456.5" stroke="#000" stroke-width="1" stroke-dasharray="2,2" stroke-dashoffset="1" shape-rendering="crispEdges"/>
<line x1="135" y1="475.5" x2="245" y2="475.5" stroke="#000" stroke-width="1" stroke-dasharray="2,2" stroke-dashoffset="1" shape-rendering="crispEdges"/>
<line x1="135" y1="495.5" x2="245" y2="495.5" stroke="#000" stroke-width="1" stroke-dasharray="2,2" stroke-dashoffset="1" shape-rendering="crispEdges"/>
<line x1="143.5" y1="436" x2="143.5" y2="514" stroke="#000" stroke-width="1" stroke-dasharray="2,2" shape-rendering="crispEdges"/>
<line x1="164.5" y1="436" x2="164.5" y2="514" stroke="#000" stroke-width="1" stroke-dasharray="2,2" shape-rendering="crispEdges"/>
<line x1="184.5" y1="436" x2="184.5" y2="514" stroke="#000" stroke-width="1" stroke-dasharray="2,2" shape-rendering="crispEdges"/>
<line x1="204.5" y1="436" x2="204.5" y2="514" stroke="#000" stroke-width="1" stroke-dasharray="2,2" shape-rendering="crispEdges"/>
<line x1="225.5" y1="436" x2="225.5" y2="514" stroke="#000" stroke-width="1" stroke-dasharray="2,2" shape-rendering="crispEdges"/>
<line x1="135" y1="543.5" x2="245" y2="543.5" stroke="#000" stroke-width="1" stroke-dasharray="2,2" stroke-dashoffset="1" shape-rendering="crispEdges"/>
<line x1="135" y1="562.5" x2="245" y2="562.5" stroke="#000" stroke-width="1" stroke-dasharray="2,2" stroke-dashoffset="1" shape-rendering="crispEdges"/>
<line x1="135" y1="582.5" x2="245" y2="582.5" stroke="#000" stroke-width="1" stroke-dasharray="2,2" stroke-dashoffset="1" shape-rendering="crispEdges"/>
<line x1="143.5" y1="523" x2="143.5" y2="601" stroke="#000" stroke-width="1" stroke-dasharray="2,2" shape-rendering="crispEdges"/>
<line x1="164.5" y1="523" x2="164.5" y2="601" stroke="#000" stroke-width="1" stroke-dasharray="2,2" shape-rendering="crispEdges"/>
<line x1="184.5" y1="523" x2="184.5" y2="601" stroke="#000" stroke-width="1" stroke-dasharray="2,2" shape-rendering="crispEdges"/>
<line x1="204.5" y1="523" x2="204.5" y2="601" stroke="#000" stroke-width="1" stroke-dasharray="2,2" shape-rendering="crispEdges"/>
<line x1="225.5" y1="523" x2="225.5" y2="601" stroke="#000" stroke-width="1" stroke-dasharray="2,2" shape-rendering="crispEdges"/>
<line x1="338.9" y1="419.5" x2="346.8" y2="415.3" stroke="#0a0aa0" stroke-width="1.2"/>
<polygon points="352.1,412.5 348.3,418.1 345.3,412.5" fill="#0a0aa0"/>
<line x1="345.9" y1="419.5" x2="353.9" y2="415.3" stroke="#0a0aa0" stroke-width="1.2"/>
<polygon points="359.2,412.5 355.4,418.1 352.4,412.5" fill="#0a0aa0"/>
<line x1="353.0" y1="419.5" x2="360.9" y2="415.3" stroke="#0a0aa0" stroke-width="1.2"/>
<polygon points="366.2,412.5 362.4,418.1 359.4,412.5" fill="#0a0aa0"/>
<line x1="360.0" y1="419.5" x2="368.0" y2="415.3" stroke="#0a0aa0" stroke-width="1.2"/>
<polygon points="373.3,412.5 369.5,418.1 366.5,412.5" fill="#0a0aa0"/>
<line x1="367.1" y1="419.5" x2="375.0" y2="415.3" stroke="#0a0aa0" stroke-width="1.2"/>
<polygon points="380.3,412.5 376.5,418.1 373.5,412.5" fill="#0a0aa0"/>
<line x1="374.1" y1="419.5" x2="382.1" y2="415.3" stroke="#0a0aa0" stroke-width="1.2"/>
<polygon points="387.4,412.5 383.6,418.1 380.6,412.5" fill="#0a0aa0"/>
<line x1="381.3" y1="419.8" x2="389.1" y2="415.2" stroke="#0a0aa0" stroke-width="1.2"/>
<polygon points="394.3,412.2 390.7,418.0 387.5,412.5" fill="#0a0aa0"/>
<line x1="389.1" y1="420.8" x2="396.0" y2="415.0" stroke="#0a0aa0" stroke-width="1.2"/>
<polygon points="400.6,411.2 398.1,417.5 393.9,412.6" fill="#0a0aa0"/>
<line x1="396.9" y1="421.6" x2="402.9" y2="414.9" stroke="#0a0aa0" stroke-width="1.2"/>
<polygon points="406.9,410.4 405.3,417.0 400.5,412.7" fill="#0a0aa0"/>
<line x1="404.2" y1="421.8" x2="409.9" y2="414.8" stroke="#0a0aa0" stroke-width="1.2"/>
<polygon points="413.7,410.2 412.4,416.8 407.4,412.8" fill="#0a0aa0"/>
<line x1="411.3" y1="421.8" x2="416.9" y2="414.8" stroke="#0a0aa0" stroke-width="1.2"/>
<polygon points="420.7,410.2 419.4,416.8 414.5,412.8" fill="#0a0aa0"/>
<line x1="418.4" y1="421.9" x2="424.0" y2="414.8" stroke="#0a0aa0" stroke-width="1.2"/>
<polygon points="427.7,410.1 426.5,416.8 421.5,412.8" fill="#0a0aa0"/>
<line x1="425.6" y1="422.0" x2="431.0" y2="414.8" stroke="#0a0aa0" stroke-width="1.2"/>
<polygon points="434.6,410.0 433.6,416.7 428.4,412.9" fill="#0a0aa0"/>
<line x1="432.8" y1="422.1" x2="438.0" y2="414.8" stroke="#0a0aa0" stroke-width="1.2"/>
<polygon points="441.5,409.9 440.6,416.6 435.4,412.9" fill="#0a0aa0"/>
<line x1="441.0" y1="422.8" x2="444.8" y2="414.6" stroke="#0a0aa0" stroke-width="1.2"/>
<polygon points="447.4,409.2 447.7,416.0 441.9,413.3" fill="#0a0aa0"/>
<line x1="450.6" y1="423.5" x2="451.4" y2="414.5" stroke="#0a0aa0" stroke-width="1.2"/>
<polygon points="451.9,408.5 454.6,414.8 448.2,414.2" fill="#0a0aa0"/>
<line x1="458.0" y1="423.5" x2="458.4" y2="414.5" stroke="#0a0aa0" stroke-width="1.2"/>
<polygon points="458.6,408.5 461.6,414.6 455.2,414.4" fill="#0a0aa0"/>
<line x1="464.0" y1="423.4" x2="465.6" y2="414.5" stroke="#0a0aa0" stroke-width="1.2"/>
<polygon points="466.7,408.6 468.8,415.1 462.5,414.0" fill="#0a0aa0"/>
<line x1="471.4" y1="423.4" x2="472.6" y2="414.5" stroke="#0a0aa0" stroke-width="1.2"/>
<polygon points="473.4,408.6 475.8,415.0 469.4,414.1" fill="#0a0aa0"/>
<line x1="479.2" y1="423.5" x2="479.5" y2="414.5" stroke="#0a0aa0" stroke-width="1.2"/>
<polygon points="479.7,408.5 482.7,414.6 476.3,414.4" fill="#0a0aa0"/>
<line x1="485.5" y1="423.4" x2="486.7" y2="414.5" stroke="#0a0aa0" stroke-width="1.2"/>
<polygon points="487.5,408.6 489.9,415.0 483.5,414.1" fill="#0a0aa0"/>
<line x1="492.2" y1="423.4" x2="493.8" y2="414.5" stroke="#0a0aa0" stroke-width="1.2"/>
<polygon points="494.9,408.6 497.0,415.1 490.7,414.0" fill="#0a0aa0"/>
<line x1="499.0" y1="423.3" x2="500.9" y2="414.5" stroke="#0a0aa0" stroke-width="1.2"/>
<polygon points="502.2,408.7 504.0,415.2 497.8,413.9" fill="#0a0aa0"/>
<line x1="503.3" y1="422.1" x2="508.5" y2="414.8" stroke="#0a0aa0" stroke-width="1.2"/>
<polygon points="512.0,409.9 511.1,416.6 505.9,412.9" fill="#0a0aa0"/>
<line x1="507.8" y1="419.1" x2="516.1" y2="415.4" stroke="#0a0aa0" stroke-width="1.2"/>
<polygon points="521.6,412.9 517.4,418.3 514.8,412.5" fill="#0a0aa0"/>
<line x1="514.8" y1="418.8" x2="523.1" y2="415.4" stroke="#0a0aa0" stroke-width="1.2"/>
<polygon points="528.7,413.2 524.3,418.4 521.9,412.5" fill="#0a0aa0"/>
<line x1="521.8" y1="418.8" x2="530.2" y2="415.4" stroke="#0a0aa0" stroke-width="1.2"/>
<polygon points="535.8,413.2 531.4,418.4 529.0,412.5" fill="#0a0aa0"/>
<line x1="528.9" y1="418.8" x2="537.2" y2="415.4" stroke="#0a0aa0" stroke-width="1.2"/>
<polygon points="542.8,413.2 538.4,418.4 536.0,412.5" fill="#0a0aa0"/>
<line x1="536.4" y1="419.8" x2="544.2" y2="415.2" stroke="#0a0aa0" stroke-width="1.2"/>
<polygon points="549.4,412.2 545.8,418.0 542.6,412.5" fill="#0a0aa0"/>
<line x1="543.7" y1="420.1" x2="551.2" y2="415.2" stroke="#0a0aa0" stroke-width="1.2"/>
<polygon points="556.2,411.9 553.0,417.9 549.5,412.5" fill="#0a0aa0"/>
<line x1="552.1" y1="421.7" x2="558.0" y2="414.9" stroke="#0a0aa0" stroke-width="1.2"/>
<polygon points="561.9,410.3 560.4,417.0 555.6,412.8" fill="#0a0aa0"/>
<line x1="561.4" y1="423.0" x2="564.6" y2="414.6" stroke="#0a0aa0" stroke-width="1.2"/>
<polygon points="566.7,409.0 567.6,415.7 561.6,413.5" fill="#0a0aa0"/>
<line x1="571.9" y1="423.5" x2="570.9" y2="414.5" stroke="#0a0aa0" stroke-width="1.2"/>
<polygon points="570.3,408.5 574.1,414.2 567.8,414.8" fill="#0a0aa0"/>
<line x1="580.5" y1="423.1" x2="577.7" y2="414.6" stroke="#0a0aa0" stroke-width="1.2"/>
<polygon points="575.8,408.9 580.7,413.6 574.6,415.6" fill="#0a0aa0"/>
<line x1="586.4" y1="423.4" x2="585.0" y2="414.5" stroke="#0a0aa0" stroke-width="1.2"/>
<polygon points="584.0,408.6 588.1,414.0 581.8,415.0" fill="#0a0aa0"/>
<line x1="590.3" y1="423.2" x2="592.6" y2="414.6" stroke="#0a0aa0" stroke-width="1.2"/>
<polygon points="594.2,408.8 595.7,415.4 589.5,413.7" fill="#0a0aa0"/>
<line x1="592.9" y1="420.0" x2="600.6" y2="415.2" stroke="#0a0aa0" stroke-width="1.2"/>
<polygon points="605.7,412.0 602.3,417.9 598.9,412.5" fill="#0a0aa0"/>
<line x1="602.5" y1="422.4" x2="607.1" y2="414.7" stroke="#0a0aa0" stroke-width="1.2"/>
<polygon points="610.2,409.6 609.9,416.4 604.4,413.1" fill="#0a0aa0"/>
<line x1="612.2" y1="423.4" x2="613.6" y2="414.5" stroke="#0a0aa0" stroke-width="1.2"/>
<polygon points="614.6,408.6 616.8,415.0 610.5,414.0" fill="#0a0aa0"/>
<line x1="620.5" y1="423.5" x2="620.5" y2="414.5" stroke="#0a0aa0" stroke-width="1.2"/>
<polygon points="620.5,408.5 623.7,414.5 617.2,414.5" fill="#0a0aa0"/>
<line x1="627.5" y1="423.5" x2="627.5" y2="414.5" stroke="#0a0aa0" stroke-width="1.2"/>
<polygon points="627.5,408.5 630.7,414.5 624.3,414.5" fill="#0a0aa0"/>
<line x1="635.7" y1="423.4" x2="634.3" y2="414.5" stroke="#0a0aa0" stroke-width="1.2"/>
<polygon points="633.4,408.6 637.5,414.0 631.2,415.0" fill="#0a0aa0"/>
<line x1="642.8" y1="423.4" x2="641.4" y2="414.5" stroke="#0a0aa0" stroke-width="1.2"/>
<polygon points="640.4,408.6 644.5,414.0 638.2,415.0" fill="#0a0aa0"/>
<line x1="648.6" y1="423.5" x2="648.6" y2="414.5" stroke="#0a0aa0" stroke-width="1.2"/>
<polygon points="648.6,408.5 651.9,414.5 645.4,414.5" fill="#0a0aa0"/>
<line x1="649.5" y1="420.2" x2="656.9" y2="415.2" stroke="#0a0aa0" stroke-width="1.2"/>
<polygon points="661.9,411.8 658.7,417.8 655.2,412.5" fill="#0a0aa0"/>
<line x1="656.3" y1="419.8" x2="664.0" y2="415.2" stroke="#0a0aa0" stroke-width="1.2"/>
<polygon points="669.2,412.2 665.6,418.0 662.4,412.5" fill="#0a0aa0"/>
<line x1="662.8" y1="418.6" x2="671.2" y2="415.5" stroke="#0a0aa0" stroke-width="1.2"/>
<polygon points="676.8,413.4 672.3,418.5 670.1,412.5" fill="#0a0aa0"/>
<line x1="669.7" y1="418.3" x2="678.3" y2="415.5" stroke="#0a0aa0" stroke-width="1.2"/>
<polygon points="684.0,413.7 679.3,418.6 677.3,412.5" fill="#0a0aa0"/>
<line x1="676.8" y1="418.3" x2="685.3" y2="415.5" stroke="#0a0aa0" stroke-width="1.2"/>
<polygon points="691.0,413.7 686.3,418.6 684.3,412.5" fill="#0a0aa0"/>
<line x1="683.8" y1="418.3" x2="692.4" y2="415.5" stroke="#0a0aa0" stroke-width="1.2"/>
<polygon points="698.1,413.7 693.4,418.6 691.4,412.5" fill="#0a0aa0"/>
<line x1="690.9" y1="418.3" x2="699.4" y2="415.5" stroke="#0a0aa0" stroke-width="1.2"/>
<polygon points="705.1,413.7 700.4,418.6 698.4,412.5" fill="#0a0aa0"/>
<line x1="697.9" y1="418.3" x2="706.5" y2="415.5" stroke="#0a0aa0" stroke-width="1.2"/>
<polygon points="712.2,413.7 707.5,418.6 705.5,412.5" fill="#0a0aa0"/>
<line x1="705.0" y1="418.3" x2="713.5" y2="415.5" stroke="#0a0aa0" stroke-width="1.2"/>
<polygon points="719.2,413.7 714.5,418.6 712.5,412.5" fill="#0a0aa0"/>
<line x1="712.2" y1="418.8" x2="720.5" y2="415.4" stroke="#0a0aa0" stroke-width="1.2"/>
<polygon points="726.1,413.2 721.7,418.4 719.3,412.5" fill="#0a0aa0"/>
<line x1="720.3" y1="420.6" x2="727.4" y2="415.1" stroke="#0a0aa0" stroke-width="1.2"/>
<polygon points="732.1,411.4 729.4,417.6 725.4,412.6" fill="#0a0aa0"/>
<line x1="728.1" y1="421.5" x2="734.3" y2="414.9" stroke="#0a0aa0" stroke-width="1.2"/>
<polygon points="738.4,410.5 736.6,417.1 731.9,412.7" fill="#0a0aa0"/>
<line x1="735.4" y1="421.7" x2="741.3" y2="414.9" stroke="#0a0aa0" stroke-width="1.2"/>
<polygon points="745.2,410.3 743.7,417.0 738.9,412.8" fill="#0a0aa0"/>
<line x1="742.9" y1="422.1" x2="748.2" y2="414.8" stroke="#0a0aa0" stroke-width="1.2"/>
<polygon points="751.8,409.9 750.8,416.7 745.6,412.9" fill="#0a0aa0"/>
<line x1="749.5" y1="421.7" x2="755.4" y2="414.9" stroke="#0a0aa0" stroke-width="1.2"/>
<polygon points="759.3,410.3 757.8,417.0 753.0,412.8" fill="#0a0aa0"/>
<line x1="756.6" y1="421.7" x2="762.4" y2="414.9" stroke="#0a0aa0" stroke-width="1.2"/>
<polygon points="766.3,410.3 764.9,416.9 760.0,412.8" fill="#0a0aa0"/>
<clipPath id="m5c"><rect x="135.5" y="398" width="130" height="32"/></clipPath>
<g clip-path="url(#m5c)">
<line x1="132.7" y1="406.6" x2="137.4" y2="417.7" stroke="#00009a" stroke-width="1.5"/>
<polygon points="140.4,424.6 134.1,419.1 140.7,416.3" fill="#00009a"/>
<line x1="139.7" y1="406.6" x2="144.4" y2="417.7" stroke="#00009a" stroke-width="1.5"/>
<polygon points="147.3,424.6 141.1,419.1 147.7,416.3" fill="#00009a"/>
<line x1="146.6" y1="406.6" x2="151.3" y2="417.7" stroke="#00009a" stroke-width="1.5"/>
<polygon points="154.3,424.6 148.0,419.1 154.6,416.3" fill="#00009a"/>
<line x1="153.6" y1="406.6" x2="158.3" y2="417.7" stroke="#00009a" stroke-width="1.5"/>
<polygon points="161.2,424.6 155.0,419.1 161.6,416.3" fill="#00009a"/>
<line x1="160.5" y1="406.6" x2="165.2" y2="417.7" stroke="#00009a" stroke-width="1.5"/>
<polygon points="168.2,424.6 161.9,419.1 168.5,416.3" fill="#00009a"/>
<line x1="167.5" y1="406.6" x2="172.2" y2="417.7" stroke="#00009a" stroke-width="1.5"/>
<polygon points="175.1,424.6 168.9,419.1 175.5,416.3" fill="#00009a"/>
<line x1="174.4" y1="406.6" x2="179.1" y2="417.7" stroke="#00009a" stroke-width="1.5"/>
<polygon points="182.1,424.6 175.8,419.1 182.4,416.3" fill="#00009a"/>
<line x1="181.4" y1="406.6" x2="186.1" y2="417.7" stroke="#00009a" stroke-width="1.5"/>
<polygon points="189.0,424.6 182.8,419.1 189.4,416.3" fill="#00009a"/>
<line x1="188.3" y1="406.6" x2="193.0" y2="417.7" stroke="#00009a" stroke-width="1.5"/>
<polygon points="196.0,424.6 189.7,419.1 196.3,416.3" fill="#00009a"/>
<line x1="195.3" y1="406.6" x2="200.0" y2="417.7" stroke="#00009a" stroke-width="1.5"/>
<polygon points="202.9,424.6 196.7,419.1 203.3,416.3" fill="#00009a"/>
<line x1="202.2" y1="406.6" x2="206.9" y2="417.7" stroke="#00009a" stroke-width="1.5"/>
<polygon points="209.9,424.6 203.6,419.1 210.2,416.3" fill="#00009a"/>
<line x1="209.2" y1="406.6" x2="213.9" y2="417.7" stroke="#00009a" stroke-width="1.5"/>
<polygon points="216.8,424.6 210.6,419.1 217.2,416.3" fill="#00009a"/>
<line x1="216.1" y1="406.6" x2="220.8" y2="417.7" stroke="#00009a" stroke-width="1.5"/>
<polygon points="223.8,424.6 217.5,419.1 224.1,416.3" fill="#00009a"/>
<line x1="223.1" y1="406.6" x2="227.8" y2="417.7" stroke="#00009a" stroke-width="1.5"/>
<polygon points="230.7,424.6 224.5,419.1 231.1,416.3" fill="#00009a"/>
<line x1="230.0" y1="406.6" x2="234.7" y2="417.7" stroke="#00009a" stroke-width="1.5"/>
<polygon points="237.7,424.6 231.4,419.1 238.0,416.3" fill="#00009a"/>
<line x1="237.0" y1="406.6" x2="241.7" y2="417.7" stroke="#00009a" stroke-width="1.5"/>
<polygon points="244.6,424.6 238.4,419.1 245.0,416.3" fill="#00009a"/>
<line x1="243.9" y1="406.6" x2="248.6" y2="417.7" stroke="#00009a" stroke-width="1.5"/>
<polygon points="251.6,424.6 245.3,419.1 251.9,416.3" fill="#00009a"/>
</g>
<rect x="342.5" y="57.5" width="415" height="78" fill="none" stroke="#000" stroke-width="1" shape-rendering="crispEdges"/>
<line x1="342" y1="56.5" x2="758" y2="56.5" stroke="#9a9a9a" stroke-width="1" shape-rendering="crispEdges"/>
<rect x="342.5" y="144.5" width="415" height="77" fill="none" stroke="#000" stroke-width="1" shape-rendering="crispEdges"/>
<line x1="342" y1="143.5" x2="758" y2="143.5" stroke="#9a9a9a" stroke-width="1" shape-rendering="crispEdges"/>
<rect x="342.5" y="230.5" width="415" height="78" fill="none" stroke="#000" stroke-width="1" shape-rendering="crispEdges"/>
<rect x="342.5" y="317.5" width="415" height="78" fill="none" stroke="#000" stroke-width="1" shape-rendering="crispEdges"/>
<line x1="342.5" y1="401.5" x2="342.5" y2="431.5" stroke="#000" stroke-width="1" shape-rendering="crispEdges"/>
<line x1="757.5" y1="401.5" x2="757.5" y2="432.5" stroke="#000" stroke-width="1" shape-rendering="crispEdges"/>
<line x1="342" y1="401.5" x2="758" y2="401.5" stroke="#000" stroke-width="1" shape-rendering="crispEdges"/>
<rect x="342" y="431" width="416" height="2" fill="#7a7a7a" />
<line x1="342.5" y1="438.5" x2="342.5" y2="516.5" stroke="#000" stroke-width="1" shape-rendering="crispEdges"/>
<line x1="757.5" y1="438.5" x2="757.5" y2="516.5" stroke="#000" stroke-width="1" shape-rendering="crispEdges"/>
<line x1="342" y1="516.5" x2="758" y2="516.5" stroke="#000" stroke-width="1" shape-rendering="crispEdges"/>
<line x1="342" y1="437.5" x2="758" y2="437.5" stroke="#707070" stroke-width="1" shape-rendering="crispEdges"/>
<line x1="342" y1="438.5" x2="758" y2="438.5" stroke="#000" stroke-width="1" stroke-dasharray="2,2" shape-rendering="crispEdges"/>
<rect x="342.5" y="525.5" width="415" height="78" fill="none" stroke="#000" stroke-width="1" shape-rendering="crispEdges"/>
<rect x="135.5" y="57.5" width="110" height="77" fill="none" stroke="#000" stroke-width="1" shape-rendering="crispEdges"/>
<rect x="135.5" y="143.5" width="110" height="77" fill="none" stroke="#000" stroke-width="1" shape-rendering="crispEdges"/>
<rect x="135.5" y="229.5" width="110" height="77" fill="none" stroke="#000" stroke-width="1" shape-rendering="crispEdges"/>
<rect x="135.5" y="315.5" width="110" height="77" fill="none" stroke="#000" stroke-width="1" shape-rendering="crispEdges"/>
<rect x="135.5" y="398.5" width="110" height="32" fill="none" stroke="#000" stroke-width="1" shape-rendering="crispEdges"/>
<rect x="135.5" y="436.5" width="110" height="78" fill="none" stroke="#000" stroke-width="1" shape-rendering="crispEdges"/>
<rect x="135.5" y="523.5" width="110" height="78" fill="none" stroke="#000" stroke-width="1" shape-rendering="crispEdges"/>
<line x1="343" y1="221.5" x2="757" y2="221.5" stroke="#00a000" stroke-width="1" shape-rendering="crispEdges"/>
<line x1="342" y1="221.5" x2="757" y2="221.5" stroke="#000" stroke-width="1" stroke-dasharray="2,2" shape-rendering="crispEdges"/>
<rect x="380" y="220" width="3" height="3" fill="#ee1111" />
<rect x="478" y="220" width="3" height="3" fill="#ee1111" />
<rect x="507" y="220" width="3" height="3" fill="#ee1111" />
<rect x="520" y="220" width="3" height="3" fill="#ee1111" />
<rect x="528" y="220" width="3" height="3" fill="#ee1111" />
<rect x="535" y="220" width="3" height="3" fill="#ee1111" />
<rect x="542" y="220" width="3" height="3" fill="#ee1111" />
<rect x="549" y="220" width="3" height="3" fill="#ee1111" />
<rect x="583" y="220" width="3" height="3" fill="#ee1111" />
<rect x="591" y="220" width="3" height="3" fill="#ee1111" />
<rect x="633" y="220" width="3" height="3" fill="#ee1111" />
<rect x="640" y="220" width="3" height="3" fill="#ee1111" />
<rect x="648" y="220" width="3" height="3" fill="#ee1111" />
<rect x="5" y="0" width="1" height="1" fill="#000" />
<text x="282.2" y="12.7" font-size="12.3" fill="#00008b" textLength="146" lengthAdjust="spacingAndGlyphs" font-family="Liberation Sans" >wschód słońca: 06:23 CET</text>
<text x="280.2" y="25.6" font-size="12.3" fill="#00008b" textLength="149.5" lengthAdjust="spacingAndGlyphs" font-family="Liberation Sans" >zachód słońca: 17:14 CEST</text>
<text x="550.4" y="12.9" font-size="12.1" fill="#00008b" text-anchor="middle" font-family="Liberation Sans" >21°28'30"E, 53°53'34"N</text>
<text x="550.4" y="25.6" font-size="12.1" fill="#00008b" text-anchor="middle" font-family="Liberation Sans" >(x=257,  y=358)</text>
<text x="738" y="12.9" font-size="12.2" fill="#00008b" text-anchor="middle" font-family="Liberation Sans" >wysokość (min, środek, max)</text>
<text x="738.5" y="25.6" font-size="12.2" fill="#00008b" text-anchor="middle" font-family="Liberation Sans" >128 - 151 - 178 m</text>
<text x="302.6" y="55" font-size="13.8" fill="#000" textLength="32.8" lengthAdjust="spacingAndGlyphs" font-family="Liberation Sans" >CEST</text>
<text x="769.5" y="55" font-size="13.8" fill="#000" textLength="24.3" lengthAdjust="spacingAndGlyphs" font-family="Liberation Sans" >CET</text>
<text x="347.4" y="42" font-size="13.8" fill="#000" textLength="60" lengthAdjust="spacingAndGlyphs" font-family="Liberation Sans" >sob, 25.10</text>
<text x="518" y="42.1" font-size="13.8" fill="#000" textLength="56.5" lengthAdjust="spacingAndGlyphs" font-family="Liberation Sans" >nie, 26.10</text>
<text x="685.7" y="42.5" font-size="13.8" fill="#000" textLength="59.7" lengthAdjust="spacingAndGlyphs" font-family="Liberation Sans" >pon, 27.10</text>
<text x="356" y="55" font-size="13.8" fill="#000" text-anchor="middle" font-family="Liberation Sans" >11</text>
<text x="398.8" y="55" font-size="13.8" fill="#000" text-anchor="middle" font-family="Liberation Sans" >17</text>
<text x="440.5" y="55" font-size="13.8" fill="#000" text-anchor="middle" font-family="Liberation Sans" >23</text>
<text x="482.3" y="55" font-size="13.8" fill="#000" text-anchor="middle" font-family="Liberation Sans" >04</text>
<text x="523.9" y="55" font-size="13.8" fill="#000" text-anchor="middle" font-family="Liberation Sans" >10</text>
<text x="567.8" y="55" font-size="13.8" fill="#000" text-anchor="middle" font-family="Liberation Sans" >16</text>
<text x="610.2" y="55" font-size="13.8" fill="#000" text-anchor="middle" font-family="Liberation Sans" >22</text>
<text x="652" y="55" font-size="13.8" fill="#000" text-anchor="middle" font-family="Liberation Sans" >04</text>
<text x="693.8" y="55" font-size="13.8" fill="#000" text-anchor="middle" font-family="Liberation Sans" >10</text>
<text x="736.1" y="55" font-size="13.8" fill="#000" text-anchor="middle" font-family="Liberation Sans" >16</text>
<text x="305.9" y="616.6" font-size="13.8" fill="#000" textLength="22.6" lengthAdjust="spacingAndGlyphs" font-family="Liberation Sans" >UTC</text>
<text x="768.9" y="616.6" font-size="13.8" fill="#000" textLength="24.4" lengthAdjust="spacingAndGlyphs" font-family="Liberation Sans" >UTC</text>
<text x="356.6" y="616.8" font-size="13.8" fill="#000" text-anchor="middle" font-family="Liberation Sans" >09</text>
<text x="398.7" y="616.8" font-size="13.8" fill="#000" text-anchor="middle" font-family="Liberation Sans" >15</text>
<text x="440" y="616.8" font-size="13.8" fill="#000" text-anchor="middle" font-family="Liberation Sans" >21</text>
<text x="482.9" y="616.8" font-size="13.8" fill="#000" text-anchor="middle" font-family="Liberation Sans" >03</text>
<text x="524.1" y="616.8" font-size="13.8" fill="#000" text-anchor="middle" font-family="Liberation Sans" >09</text>
<text x="566.8" y="616.8" font-size="13.8" fill="#000" text-anchor="middle" font-family="Liberation Sans" >15</text>
<text x="609.3" y="616.8" font-size="13.8" fill="#000" text-anchor="middle" font-family="Liberation Sans" >21</text>
<text x="651.1" y="616.8" font-size="13.8" fill="#000" text-anchor="middle" font-family="Liberation Sans" >03</text>
<text x="693.2" y="616.8" font-size="13.8" fill="#000" text-anchor="middle" font-family="Liberation Sans" >09</text>
<text x="736" y="616.8" font-size="13.8" fill="#000" text-anchor="middle" font-family="Liberation Sans" >15</text>
<text x="361.4" y="629.8" font-size="13.8" fill="#000" textLength="31.7" lengthAdjust="spacingAndGlyphs" font-family="Liberation Sans" >25.10</text>
<text x="529.5" y="629.8" font-size="13.8" fill="#000" textLength="32" lengthAdjust="spacingAndGlyphs" font-family="Liberation Sans" >26.10</text>
<text x="698.5" y="629.8" font-size="13.8" fill="#000" textLength="31.6" lengthAdjust="spacingAndGlyphs" font-family="Liberation Sans" >27.10</text>
<text x="300.7" y="652.7" font-size="13" fill="#00008b" textLength="107.8" lengthAdjust="spacingAndGlyphs" font-family="Liberation Sans" >meteo@icm.edu.pl</text>
<text x="553.7" y="653" font-size="13" fill="#00008b" textLength="251.8" lengthAdjust="spacingAndGlyphs" font-family="Liberation Sans" >© 2007-2025 ICM, Uniwersytet Warszawski</text>
<text x="338.8" y="67.9" font-size="11.5" fill="#000" text-anchor="end" font-family="Liberation Sans" >10</text>
<text x="338.8" y="100.9" font-size="11.5" fill="#000" text-anchor="end" font-family="Liberation Sans" >5</text>
<text x="338.8" y="134.1" font-size="11.5" fill="#000" text-anchor="end" font-family="Liberation Sans" >0</text>
<text x="338.8" y="150" font-size="11.5" fill="#000" text-anchor="end" font-family="Liberation Sans" >10</text>
<text x="338.8" y="165" font-size="11.5" fill="#000" text-anchor="end" font-family="Liberation Sans" >8</text>
<text x="338.8" y="180.3" font-size="11.5" fill="#000" text-anchor="end" font-family="Liberation Sans" >6</text>
<text x="338.8" y="195.3" font-size="11.5" fill="#000" text-anchor="end" font-family="Liberation Sans" >4</text>
<text x="338.8" y="210.2" font-size="11.5" fill="#000" text-anchor="end" font-family="Liberation Sans" >2</text>
<text x="338.8" y="225" font-size="11.5" fill="#000" text-anchor="end" font-family="Liberation Sans" >0</text>
<text x="338.8" y="239" font-size="11.5" fill="#000" text-anchor="end" font-family="Liberation Sans" >1000</text>
<text x="338.8" y="259.1" font-size="11.5" fill="#000" text-anchor="end" font-family="Liberation Sans" >995</text>
<text x="338.8" y="279.8" font-size="11.5" fill="#000" text-anchor="end" font-family="Liberation Sans" >990</text>
<text x="338.8" y="299.5" font-size="11.5" fill="#000" text-anchor="end" font-family="Liberation Sans" >985</text>
<text x="338.8" y="322.5" font-size="11.5" fill="#000" text-anchor="end" font-family="Liberation Sans" >20</text>
<text x="338.8" y="341.5" font-size="11.5" fill="#000" text-anchor="end" font-family="Liberation Sans" >15</text>
<text x="338.8" y="361" font-size="11.5" fill="#000" text-anchor="end" font-family="Liberation Sans" >10</text>
<text x="338.8" y="380" font-size="11.5" fill="#000" text-anchor="end" font-family="Liberation Sans" >5</text>
<text x="338.8" y="398.3" font-size="11.5" fill="#000" text-anchor="end" font-family="Liberation Sans" >0</text>
<text x="338.8" y="440.5" font-size="11.5" fill="#000" text-anchor="end" font-family="Liberation Sans" >15.0</text>
<text x="338.8" y="460.7" font-size="11.5" fill="#000" text-anchor="end" font-family="Liberation Sans" >7.0</text>
<text x="338.8" y="479.5" font-size="11.5" fill="#000" text-anchor="end" font-family="Liberation Sans" >2.0</text>
<text x="338.8" y="499" font-size="11.5" fill="#000" text-anchor="end" font-family="Liberation Sans" >0.5</text>
<text x="338.8" y="517.8" font-size="11.5" fill="#000" text-anchor="end" font-family="Liberation Sans" >0.0</text>
<text x="338.8" y="529.3" font-size="11.5" fill="#000" text-anchor="end" font-family="Liberation Sans" >8</text>
<text x="338.8" y="548.5" font-size="11.5" fill="#000" text-anchor="end" font-family="Liberation Sans" >6</text>
<text x="338.8" y="567.6" font-size="11.5" fill="#000" text-anchor="end" font-family="Liberation Sans" >4</text>
<text x="338.8" y="586.8" font-size="11.5" fill="#000" text-anchor="end" font-family="Liberation Sans" >2</text>
<text x="338.8" y="606" font-size="11.5" fill="#000" text-anchor="end" font-family="Liberation Sans" >0</text>
<text x="767.3" y="67.8" font-size="11.5" fill="#000" text-anchor="middle" font-family="Liberation Sans" >10</text>
<text x="767.3" y="100.8" font-size="11.5" fill="#000" text-anchor="middle" font-family="Liberation Sans" >5</text>
<text x="767.3" y="134" font-size="11.5" fill="#000" text-anchor="middle" font-family="Liberation Sans" >0</text>
<text x="767.3" y="322.6" font-size="11.5" fill="#000" text-anchor="middle" font-family="Liberation Sans" >72</text>
<text x="767.3" y="341.7" font-size="11.5" fill="#000" text-anchor="middle" font-family="Liberation Sans" >54</text>
<text x="767.3" y="360.5" font-size="11.5" fill="#000" text-anchor="middle" font-family="Liberation Sans" >36</text>
<text x="767.3" y="379.5" font-size="11.5" fill="#000" text-anchor="middle" font-family="Liberation Sans" >18</text>
<text x="767.3" y="398.3" font-size="11.5" fill="#000" text-anchor="middle" font-family="Liberation Sans" >0</text>
<text x="761.5" y="238.6" font-size="11.5" fill="#000" font-family="Liberation Sans" >750</text>
<text x="761.5" y="258.3" font-size="11.5" fill="#000" font-family="Liberation Sans" >746</text>
<text x="761.5" y="279.5" font-size="11.5" fill="#000" font-family="Liberation Sans" >742</text>
<text x="761.5" y="299.2" font-size="11.5" fill="#000" font-family="Liberation Sans" >739</text>
<text x="770.5" y="150.9" font-size="11.5" fill="#e8501a" text-anchor="middle" font-family="Liberation Sans" >100</text>
<text x="770.5" y="165.8" font-size="11.5" fill="#e8501a" text-anchor="middle" font-family="Liberation Sans" >95</text>
<text x="770.5" y="180.9" font-size="11.5" fill="#e8501a" text-anchor="middle" font-family="Liberation Sans" >90</text>
<text x="770.5" y="196.1" font-size="11.5" fill="#e8501a" text-anchor="middle" font-family="Liberation Sans" >85</text>
<text x="770.5" y="211.2" font-size="11.5" fill="#e8501a" text-anchor="middle" font-family="Liberation Sans" >80</text>
<text x="770.5" y="225.5" font-size="11.5" fill="#e8501a" text-anchor="middle" font-family="Liberation Sans" >75</text>
<text x="761.5" y="442" font-size="11.5" fill="#ff8c00" font-family="Liberation Sans" >100</text>
<text x="761.5" y="461.9" font-size="11.5" fill="#ff8c00" font-family="Liberation Sans" >20</text>
<text x="761.5" y="480.4" font-size="11.5" fill="#ff8c00" font-family="Liberation Sans" >5</text>
<text x="761.5" y="500.2" font-size="11.5" fill="#ff8c00" font-family="Liberation Sans" >1</text>
<text x="761.5" y="518.7" font-size="11.5" fill="#ff8c00" font-family="Liberation Sans" >0</text>
<text x="761.5" y="529.1" font-size="11.5" fill="#ff8c00" font-family="Liberation Sans" >1</text>
<text x="761.5" y="548.3" font-size="11.5" fill="#ff8c00" font-family="Liberation Sans" >0.75</text>
<text x="761.5" y="568.2" font-size="11.5" fill="#ff8c00" font-family="Liberation Sans" >0.5</text>
<text x="761.5" y="587.3" font-size="11.5" fill="#ff8c00" font-family="Liberation Sans" >0.25</text>
<text x="761.5" y="605.8" font-size="11.5" fill="#ff8c00" font-family="Liberation Sans" >0</text>
<text transform="translate(287.9,95.7) rotate(-90)" x="0" y="4.4" font-size="12.3" fill="#00008b" text-anchor="middle" font-family="Liberation Sans">temperatura</text>
<text transform="translate(287.9,185.6) rotate(-90)" x="0" y="4.4" font-size="12.3" fill="#00008b" text-anchor="middle" font-family="Liberation Sans">opad</text>
<text transform="translate(287.9,272.4) rotate(-90)" x="0" y="4.4" font-size="12.3" fill="#00008b" text-anchor="middle" font-family="Liberation Sans">ciśnienie</text>
<text transform="translate(287.9,360.9) rotate(-90)" x="0" y="4.4" font-size="12.3" fill="#00008b" text-anchor="middle" font-family="Liberation Sans">wiatr</text>
<text transform="translate(287.9,477.3) rotate(-90)" x="0" y="4.4" font-size="12.3" fill="#00008b" text-anchor="middle" font-family="Liberation Sans">pion. rozciągł. chm.</text>
<text transform="translate(287.9,572) rotate(-90)" x="0" y="4.4" font-size="12.3" fill="#00008b" text-anchor="middle" font-family="Liberation Sans">zachmurzenie</text>
<text transform="translate(300.9,96.4) rotate(-90)" x="0" y="4.4" font-size="12.3" fill="#00008b" text-anchor="middle" font-family="Liberation Sans">(°C)</text>
<text transform="translate(300.9,185) rotate(-90)" x="0" y="4.4" font-size="12.3" fill="#00008b" text-anchor="middle" font-family="Liberation Sans">(mm/h, kg/m²/h)</text>
<text transform="translate(300.9,272.7) rotate(-90)" x="0" y="4.4" font-size="12.3" fill="#00008b" text-anchor="middle" font-family="Liberation Sans">(hPa)</text>
<text transform="translate(300.9,361.6) rotate(-90)" x="0" y="4.4" font-size="12.3" fill="#00008b" text-anchor="middle" font-family="Liberation Sans">(m/s)</text>
<text transform="translate(300.9,474.4) rotate(-90)" x="0" y="4.4" font-size="12.3" fill="#00008b" text-anchor="middle" font-family="Liberation Sans">(km)</text>
<text transform="translate(300.9,561.5) rotate(-90)" x="0" y="4.4" font-size="12.3" fill="#00008b" text-anchor="middle" font-family="Liberation Sans">(oktanty)</text>
<text transform="translate(798.3,96.1) rotate(-90)" x="0" y="4.4" font-size="12.3" fill="#00008b" text-anchor="middle" font-family="Liberation Sans">(°C)</text>
<text transform="translate(798.3,183.9) rotate(-90)" x="0" y="4.4" font-size="12.3" fill="#00008b" text-anchor="middle" font-family="Liberation Sans">(%)</text>
<text transform="translate(798.3,273.5) rotate(-90)" x="0" y="4.4" font-size="12.3" fill="#00008b" text-anchor="middle" font-family="Liberation Sans">(mm Hg)</text>
<text transform="translate(798.3,361.4) rotate(-90)" x="0" y="4.4" font-size="12.3" fill="#00008b" text-anchor="middle" font-family="Liberation Sans">(km/h)</text>
<text transform="translate(798.3,474.3) rotate(-90)" x="0" y="4.4" font-size="12.3" fill="#00008b" text-anchor="middle" font-family="Liberation Sans">(km)</text>
<text transform="translate(798.3,563.1) rotate(-90)" x="0" y="4.4" font-size="12.3" fill="#00008b" text-anchor="middle" font-family="Liberation Sans">(frakcja)</text>
<text transform="translate(811.1,96.8) rotate(-90)" x="0" y="4.4" font-size="12.3" fill="#00008b" text-anchor="middle" font-family="Liberation Sans">temperatura</text>
<text transform="translate(811.1,184.7) rotate(-90)" x="0" y="4.4" font-size="12.3" fill="#00008b" text-anchor="middle" font-family="Liberation Sans">wilgotność wzgl.</text>
<text transform="translate(811.1,271.2) rotate(-90)" x="0" y="4.4" font-size="12.3" fill="#00008b" text-anchor="middle" font-family="Liberation Sans">ciśnienie</text>
<text transform="translate(811.1,360.6) rotate(-90)" x="0" y="4.4" font-size="12.3" fill="#00008b" text-anchor="middle" font-family="Liberation Sans">wiatr</text>
<text transform="translate(811.1,474.3) rotate(-90)" x="0" y="4.4" font-size="12.3" fill="#00008b" text-anchor="middle" font-family="Liberation Sans">widzialność</text>
<text transform="translate(811.1,562.2) rotate(-90)" x="0" y="4.4" font-size="12.3" fill="#00008b" text-anchor="middle" font-family="Liberation Sans">mgła</text>
<text x="298.7" y="411.2" font-size="11.5" fill="#00008b" text-anchor="middle" font-family="Liberation Sans" >N</text>
<text x="289.3" y="419.8" font-size="11.5" fill="#00008b" text-anchor="middle" font-family="Liberation Sans" >W</text>
<text x="304.9" y="419.8" font-size="11.5" fill="#00008b" text-anchor="middle" font-family="Liberation Sans" >E</text>
<text x="298" y="427.9" font-size="11.5" fill="#00008b" text-anchor="middle" font-family="Liberation Sans" >S</text>
<text x="808.2" y="411.2" font-size="11.5" fill="#00008b" text-anchor="middle" font-family="Liberation Sans" >N</text>
<text x="798.8" y="419.8" font-size="11.5" fill="#00008b" text-anchor="middle" font-family="Liberation Sans" >W</text>
<text x="814.4" y="419.8" font-size="11.5" fill="#00008b" text-anchor="middle" font-family="Liberation Sans" >E</text>
<text x="807.5" y="427.9" font-size="11.5" fill="#00008b" text-anchor="middle" font-family="Liberation Sans" >S</text>
<text x="5.1" y="322.6" font-size="10.9" fill="#000" textLength="40.5" lengthAdjust="spacingAndGlyphs" font-family="Liberation Sans" >Wiatr na</text>
<text x="48.5" y="322.6" font-size="11.5" fill="#000" textLength="10.6" lengthAdjust="spacingAndGlyphs" font-family="Liberation Serif" >10</text>
<text x="59.6" y="322.6" font-size="10.9" fill="#000" textLength="12" lengthAdjust="spacingAndGlyphs" font-family="Liberation Sans" >m:</text>
<rect x="11.1" y="505.3" width="43.9" height="11.4" fill="#87cefa" />
<rect x="10.6" y="551.4" width="40.3" height="11.4" fill="#87cefa" />
<text x="6" y="18.799999999999997" font-size="10.9" fill="#000" textLength="59.708" lengthAdjust="spacingAndGlyphs" font-family="Liberation Sans" >Czas lokalny</text>
<text x="6" y="30.799999999999997" font-size="10.9" fill="#000" textLength="54.648" lengthAdjust="spacingAndGlyphs" font-family="Liberation Sans" >(CET/CEST)</text>
<text x="6" y="46.699999999999996" font-size="10.9" fill="#b22222" textLength="94.116" lengthAdjust="spacingAndGlyphs" font-family="Liberation Sans" >Temperatura gruntu</text>
<text x="27.7" y="56.4" font-size="10.9" fill="#b22222" textLength="38.962" lengthAdjust="spacingAndGlyphs" font-family="Liberation Sans" >max/min</text>
<text x="6" y="68.30000000000001" font-size="10.9" fill="#000" textLength="61.732" lengthAdjust="spacingAndGlyphs" font-family="Liberation Sans" >Temperatura:</text>
<text x="12.8" y="80.7" font-size="10.9" fill="#ff0000" textLength="77.7216" lengthAdjust="spacingAndGlyphs" font-family="Liberation Sans" >punkt środkowy</text>
<text x="27.7" y="90.9" font-size="10.9" fill="#ffc8b4" textLength="38.962" lengthAdjust="spacingAndGlyphs" font-family="Liberation Sans" >max/min</text>
<text x="9.9" y="102.9" font-size="10.9" fill="#0000ff" textLength="58.19" lengthAdjust="spacingAndGlyphs" font-family="Liberation Sans" >odczuwana</text>
<text x="27.7" y="112.2" font-size="10.9" fill="#a8d8f8" textLength="38.962" lengthAdjust="spacingAndGlyphs" font-family="Liberation Sans" >max/min</text>
<text x="6.5" y="124.2" font-size="10.9" fill="#6a5acd" textLength="87.538" lengthAdjust="spacingAndGlyphs" font-family="Liberation Sans" >Temp. punktu rosy</text>
<text x="6" y="141.3" font-size="10.9" fill="#ff0000" textLength="95.128" lengthAdjust="spacingAndGlyphs" font-family="Liberation Sans" >Opad powyżej skali</text>
<text x="6" y="155.3" font-size="10.9" fill="#e8501a" textLength="98.4676" lengthAdjust="spacingAndGlyphs" font-family="Liberation Sans" >Wilgotność względna</text>
<text x="6" y="169.4" font-size="10.9" fill="#000" textLength="85.514" lengthAdjust="spacingAndGlyphs" font-family="Liberation Sans" >Wystąpienie burzy</text>
<text x="6" y="183.1" font-size="10.9" fill="#11aa11" textLength="39.1644" lengthAdjust="spacingAndGlyphs" font-family="Liberation Sans" >Deszcz:</text>
<text x="49.5" y="183.1" font-size="10.9" fill="#11aa11" textLength="19.8352" lengthAdjust="spacingAndGlyphs" font-family="Liberation Sans" >max</text>
<text x="48.7" y="194.20000000000002" font-size="10.9" fill="#11aa11" textLength="30.157600000000002" lengthAdjust="spacingAndGlyphs" font-family="Liberation Sans" >średni</text>
<text x="6" y="205.3" font-size="10.9" fill="#2233dd" textLength="30.258799999999997" lengthAdjust="spacingAndGlyphs" font-family="Liberation Sans" >Śnieg:</text>
<text x="48.7" y="205.3" font-size="10.9" fill="#2233dd" textLength="19.8352" lengthAdjust="spacingAndGlyphs" font-family="Liberation Sans" >max</text>
<text x="48.7" y="216.4" font-size="10.9" fill="#2233dd" textLength="30.157600000000002" lengthAdjust="spacingAndGlyphs" font-family="Liberation Sans" >średni</text>
<text x="5.1" y="228.70000000000002" font-size="10.9" fill="#ff0000" textLength="89.8656" lengthAdjust="spacingAndGlyphs" font-family="Liberation Sans" >Wystąpienie opadu</text>
<text x="5.1" y="241.5" font-size="10.9" fill="#ff0000" textLength="72.5604" lengthAdjust="spacingAndGlyphs" font-family="Liberation Sans" >konwekcyjnego</text>
<text x="4.8" y="267.09999999999997" font-size="10.9" fill="#000" textLength="42.7064" lengthAdjust="spacingAndGlyphs" font-family="Liberation Sans" >Ciśnienie</text>
<text x="4.8" y="280.4" font-size="10.9" fill="#000" textLength="66.8932" lengthAdjust="spacingAndGlyphs" font-family="Liberation Sans" >zredukowane</text>
<text x="4.8" y="293.59999999999997" font-size="10.9" fill="#000" textLength="88.4488" lengthAdjust="spacingAndGlyphs" font-family="Liberation Sans" >do poziomu morza</text>
<text x="9.7" y="338.29999999999995" font-size="10.9" fill="#ff0000" textLength="102.11080000000001" lengthAdjust="spacingAndGlyphs" font-family="Liberation Sans" >poryw powyżej skali</text>
<text x="9.7" y="352.0" font-size="10.9" fill="#ff0000" textLength="95.53280000000001" lengthAdjust="spacingAndGlyphs" font-family="Liberation Sans" >max porywy wiatru</text>
<text x="9.7" y="372.5" font-size="10.9" fill="#00008b" textLength="79.6444" lengthAdjust="spacingAndGlyphs" font-family="Liberation Sans" >prędkość wiatru</text>
<text x="9.7" y="385.29999999999995" font-size="10.9" fill="#00008b" textLength="90.068" lengthAdjust="spacingAndGlyphs" font-family="Liberation Sans" >w środku obszaru</text>
<text x="9.7" y="413.29999999999995" font-size="10.9" fill="#00008b" textLength="74.888" lengthAdjust="spacingAndGlyphs" font-family="Liberation Sans" >kierunek wiatru</text>
<text x="6" y="433.09999999999997" font-size="10.9" fill="#b22222" textLength="91.586" lengthAdjust="spacingAndGlyphs" font-family="Liberation Sans" >Wierzchołek chmur</text>
<text x="6" y="447.9" font-size="10.9" fill="#000" textLength="86.3236" lengthAdjust="spacingAndGlyphs" font-family="Liberation Sans" >Podstawa chmur*</text>
<text x="6" y="459.09999999999997" font-size="10.9" fill="#000" textLength="47.867599999999996" lengthAdjust="spacingAndGlyphs" font-family="Liberation Sans" >o pokryciu</text>
<text x="10.6" y="471.9" font-size="10.9" fill="#000" textLength="44.2244" lengthAdjust="spacingAndGlyphs" font-family="Liberation Sans" >&gt; 7.9 okt.</text>
<text x="10.6" y="483.0" font-size="10.9" fill="#555555" textLength="44.2244" lengthAdjust="spacingAndGlyphs" font-family="Liberation Sans" >&gt; 6.5 okt.</text>
<text x="9.9" y="494.59999999999997" font-size="10.9" fill="#8a8a8a" textLength="44.4268" lengthAdjust="spacingAndGlyphs" font-family="Liberation Sans" >&gt; 4.5 okt.</text>
<text x="10.6" y="504.79999999999995" font-size="10.9" fill="#d4ccc4" textLength="44.2244" lengthAdjust="spacingAndGlyphs" font-family="Liberation Sans" >&gt; 2.5 okt.</text>
<text x="6" y="530.4" font-size="10.9" fill="#ff8000" textLength="57.8864" lengthAdjust="spacingAndGlyphs" font-family="Liberation Sans" >Widzialność</text>
<text x="6" y="547.5" font-size="10.9" fill="#000" textLength="39.1644" lengthAdjust="spacingAndGlyphs" font-family="Liberation Sans" >Chmury:</text>
<text x="9.9" y="573.1" font-size="10.9" fill="#a8a098" textLength="35.7236" lengthAdjust="spacingAndGlyphs" font-family="Liberation Sans" >średnie</text>
<text x="9.9" y="585.6999999999999" font-size="10.9" fill="#555555" textLength="26.312" lengthAdjust="spacingAndGlyphs" font-family="Liberation Sans" >niskie</text>
<text x="9.9" y="597.1" font-size="10.9" fill="#333333" textLength="61.732" lengthAdjust="spacingAndGlyphs" font-family="Liberation Sans" >bardzo niskie</text>
<text x="6" y="609.6" font-size="10.9" fill="#ffb000" textLength="19.8352" lengthAdjust="spacingAndGlyphs" font-family="Liberation Sans" >Mgła</text>
<text x="12" y="515.9" font-size="10.9" fill="#ffffff" textLength="42" lengthAdjust="spacingAndGlyphs" font-family="Liberation Sans" >&gt; 0.1 okt.</text>
<text x="11.5" y="561" font-size="10.9" fill="#ffffff" textLength="38.5" lengthAdjust="spacingAndGlyphs" font-family="Liberation Sans" >wysokie</text>
<text x="6" y="625.7" font-size="12.2" fill="#000" textLength="130.6" lengthAdjust="spacingAndGlyphs" font-family="Liberation Sans" >Czas uniwersalny (UTC)</text>
<text x="5.1" y="650.5" font-size="9.2" fill="#000" textLength="102.8" lengthAdjust="spacingAndGlyphs" font-weight="bold" font-family="Liberation Sans" >* powyżej poziomu morza</text>
<text x="129.3" y="63.199999999999996" font-size="11" fill="#000" text-anchor="end" font-family="Liberation Sans" >30</text>
<text x="129.3" y="80.7" font-size="11" fill="#000" text-anchor="end" font-family="Liberation Sans" >20</text>
<text x="129.3" y="98.10000000000001" font-size="11" fill="#000" text-anchor="end" font-family="Liberation Sans" >10</text>
<text x="129.3" y="115.10000000000001" font-size="11" fill="#000" text-anchor="end" font-family="Liberation Sans" >0</text>
<text x="129.3" y="132.70000000000002" font-size="11" fill="#000" text-anchor="end" font-family="Liberation Sans" >-10</text>
<text x="129.3" y="154.9" font-size="11" fill="#000" text-anchor="end" font-family="Liberation Sans" >2.0</text>
<text x="129.3" y="171.9" font-size="11" fill="#000" text-anchor="end" font-family="Liberation Sans" >1.5</text>
<text x="129.3" y="189.1" font-size="11" fill="#000" text-anchor="end" font-family="Liberation Sans" >1.0</text>
<text x="129.3" y="207.0" font-size="11" fill="#000" text-anchor="end" font-family="Liberation Sans" >0.5</text>
<text x="129.3" y="224.9" font-size="11" fill="#000" text-anchor="end" font-family="Liberation Sans" >0.0</text>
<text x="129.3" y="235.0" font-size="11" fill="#000" text-anchor="end" font-family="Liberation Sans" >1018</text>
<text x="129.3" y="257.7" font-size="11" fill="#000" text-anchor="end" font-family="Liberation Sans" >1016</text>
<text x="129.3" y="282.5" font-size="11" fill="#000" text-anchor="end" font-family="Liberation Sans" >1014</text>
<text x="129.3" y="305.5" font-size="11" fill="#000" text-anchor="end" font-family="Liberation Sans" >1012</text>
<text x="129.3" y="319.2" font-size="11" fill="#000" text-anchor="end" font-family="Liberation Sans" >20</text>
<text x="129.3" y="338.29999999999995" font-size="11" fill="#000" text-anchor="end" font-family="Liberation Sans" >15</text>
<text x="129.3" y="358.0" font-size="11" fill="#000" text-anchor="end" font-family="Liberation Sans" >10</text>
<text x="129.3" y="377.59999999999997" font-size="11" fill="#000" text-anchor="end" font-family="Liberation Sans" >5</text>
<text x="129.3" y="396.0" font-size="11" fill="#000" text-anchor="end" font-family="Liberation Sans" >0</text>
<text x="129.3" y="440.59999999999997" font-size="11" fill="#000" text-anchor="end" font-family="Liberation Sans" >15.0</text>
<text x="129.3" y="460.4" font-size="11" fill="#000" text-anchor="end" font-family="Liberation Sans" >7.0</text>
<text x="129.3" y="479.59999999999997" font-size="11" fill="#000" text-anchor="end" font-family="Liberation Sans" >2.0</text>
<text x="129.3" y="499.29999999999995" font-size="11" fill="#000" text-anchor="end" font-family="Liberation Sans" >0.5</text>
<text x="129.3" y="518.1" font-size="11" fill="#000" text-anchor="end" font-family="Liberation Sans" >0.0</text>
<text x="129.3" y="527.3" font-size="11" fill="#000" text-anchor="end" font-family="Liberation Sans" >8</text>
<text x="129.3" y="547.1" font-size="11" fill="#000" text-anchor="end" font-family="Liberation Sans" >6</text>
<text x="129.3" y="566.3" font-size="11" fill="#000" text-anchor="end" font-family="Liberation Sans" >4</text>
<text x="129.3" y="586.5" font-size="11" fill="#000" text-anchor="end" font-family="Liberation Sans" >2</text>
<text x="129.3" y="605.3" font-size="11" fill="#000" text-anchor="end" font-family="Liberation Sans" >0</text>
<text x="266.5" y="62.9" font-size="11" fill="#000" text-anchor="end" font-family="Liberation Sans" >30</text>
<text x="266.5" y="80.3" font-size="11" fill="#000" text-anchor="end" font-family="Liberation Sans" >20</text>
<text x="266.5" y="97.1" font-size="11" fill="#000" text-anchor="end" font-family="Liberation Sans" >10</text>
<text x="266.5" y="114.5" font-size="11" fill="#000" text-anchor="end" font-family="Liberation Sans" >0</text>
<text x="266.5" y="131.5" font-size="11" fill="#000" text-anchor="end" font-family="Liberation Sans" >-10</text>
<text x="253.5" y="153" font-size="11" fill="#e8501a" font-family="Liberation Sans" >96</text>
<text x="253.5" y="171.3" font-size="11" fill="#e8501a" font-family="Liberation Sans" >84</text>
<text x="253.5" y="188.9" font-size="11" fill="#e8501a" font-family="Liberation Sans" >73</text>
<text x="253.5" y="206.8" font-size="11" fill="#e8501a" font-family="Liberation Sans" >61</text>
<text x="253.5" y="223.6" font-size="11" fill="#e8501a" font-family="Liberation Sans" >50</text>
<text x="250.8" y="235" font-size="11" fill="#000" font-family="Liberation Sans" >1018</text>
<text x="250.8" y="258.1" font-size="11" fill="#000" font-family="Liberation Sans" >1016</text>
<text x="250.8" y="281.8" font-size="11" fill="#000" font-family="Liberation Sans" >1014</text>
<text x="250.8" y="304.4" font-size="11" fill="#000" font-family="Liberation Sans" >1012</text>
<text x="250.8" y="319.2" font-size="11" fill="#000" font-family="Liberation Sans" >72</text>
<text x="250.8" y="338.5" font-size="11" fill="#000" font-family="Liberation Sans" >54</text>
<text x="250.8" y="357.5" font-size="11" fill="#000" font-family="Liberation Sans" >36</text>
<text x="250.8" y="376.5" font-size="11" fill="#000" font-family="Liberation Sans" >18</text>
<text x="250.8" y="395.5" font-size="11" fill="#000" font-family="Liberation Sans" >0</text>
<text x="250.8" y="441" font-size="11" fill="#ff8c00" font-family="Liberation Sans" >100</text>
<text x="250.8" y="460.5" font-size="11" fill="#ff8c00" font-family="Liberation Sans" >20</text>
<text x="250.8" y="479.5" font-size="11" fill="#ff8c00" font-family="Liberation Sans" >5</text>
<text x="250.8" y="499" font-size="11" fill="#ff8c00" font-family="Liberation Sans" >1</text>
<text x="250.8" y="518" font-size="11" fill="#ff8c00" font-family="Liberation Sans" >0</text>
<text x="250.8" y="527.5" font-size="11" fill="#ff8c00" font-family="Liberation Sans" >1</text>
<text x="250.8" y="547" font-size="11" fill="#ff8c00" font-family="Liberation Sans" >0.75</text>
<text x="250.8" y="566" font-size="11" fill="#ff8c00" font-family="Liberation Sans" >0.5</text>
<text x="250.8" y="586" font-size="11" fill="#ff8c00" font-family="Liberation Sans" >0.25</text>
<text x="250.8" y="605" font-size="11" fill="#ff8c00" font-family="Liberation Sans" >0</text>
<text x="163.9" y="51.2" font-size="12.5" fill="#000" text-anchor="middle" font-family="Liberation Sans" >20</text>
<text x="203.9" y="51.2" font-size="12.5" fill="#000" text-anchor="middle" font-family="Liberation Sans" >02</text>
<text x="244.2" y="51.2" font-size="12.5" fill="#000" text-anchor="middle" font-family="Liberation Sans" >08</text>
<text x="164.5" y="614.8" font-size="12.5" fill="#000" text-anchor="middle" font-family="Liberation Sans" >18</text>
<text x="204.3" y="614.8" font-size="12.5" fill="#000" text-anchor="middle" font-family="Liberation Sans" >00</text>
<text x="244" y="614.8" font-size="12.5" fill="#000" text-anchor="middle" font-family="Liberation Sans" >06</text>
<polyline points="68.0,15.5 133.0,15.5 155.3,43.5" fill="none" stroke="#000" stroke-width="1" stroke-linejoin="round" stroke-linecap="round" stroke-linecap="butt"/>
<polyline points="102.4,44.5 119.5,44.5 149.3,83.5" fill="none" stroke="#b22222" stroke-width="1" stroke-linejoin="round" stroke-linecap="round" stroke-linecap="butt"/>
<polyline points="92.2,76.5 114.4,76.5" fill="none" stroke="#ff0000" stroke-width="1" stroke-linejoin="round" stroke-linecap="round" stroke-linecap="butt"/>
<polyline points="128.5,76.5 133.0,77.5 151.3,97.5" fill="none" stroke="#ff0000" stroke-width="1" stroke-linejoin="round" stroke-linecap="round" stroke-linecap="butt"/>
<polyline points="70.0,99.5 132.3,99.5 136.6,101.5" fill="none" stroke="#0000ff" stroke-width="1" stroke-linejoin="round" stroke-linecap="round" stroke-linecap="butt"/>
<path d="M94.8,120.4 L132.3,120.4 Q138,119 142,113" fill="none" stroke="#6a5acd" stroke-width="1"/>
<polyline points="103.3,137.5 140.0,137.5 145.6,146.5" fill="none" stroke="#ff0000" stroke-width="1" stroke-linejoin="round" stroke-linecap="round" stroke-linecap="butt"/>
<polyline points="105.9,151.5 111.8,151.5" fill="none" stroke="#e8501a" stroke-width="1" stroke-linejoin="round" stroke-linecap="round" stroke-linecap="butt"/>
<polyline points="129.0,151.5 135.3,160.5" fill="none" stroke="#e8501a" stroke-width="1" stroke-linejoin="round" stroke-linecap="round" stroke-linecap="butt"/>
<polyline points="93.9,166.5 112.7,166.5" fill="none" stroke="#000" stroke-width="1" stroke-linejoin="round" stroke-linecap="round" stroke-linecap="butt"/>
<polyline points="129.0,166.5 134.5,169.5 138.0,172.5" fill="none" stroke="#000" stroke-width="1" stroke-linejoin="round" stroke-linecap="round" stroke-linecap="butt"/>
<polyline points="71.4,179.5 139.3,179.5" fill="none" stroke="#11aa11" stroke-width="1" stroke-linejoin="round" stroke-linecap="round" stroke-linecap="butt"/>
<polyline points="80.2,190.5 140.0,190.5" fill="none" stroke="#11aa11" stroke-width="1" stroke-linejoin="round" stroke-linecap="round" stroke-linecap="butt"/>
<polyline points="70.0,202.5 111.8,202.5" fill="none" stroke="#2233dd" stroke-width="1" stroke-linejoin="round" stroke-linecap="round" stroke-linecap="butt"/>
<polyline points="129.8,202.5 131.0,202.5 160.7,171.5" fill="none" stroke="#2233dd" stroke-width="1" stroke-linejoin="round" stroke-linecap="round" stroke-linecap="butt"/>
<polyline points="81.1,212.5 131.3,212.5 157.5,188.5" fill="none" stroke="#2233dd" stroke-width="1" stroke-linejoin="round" stroke-linecap="round" stroke-linecap="butt"/>
<polyline points="97.3,224.5 144.0,224.5 147.2,220.5" fill="none" stroke="#ff0000" stroke-width="1" stroke-linejoin="round" stroke-linecap="round" stroke-linecap="butt"/>
<polyline points="51.2,264.5 131.5,264.5 136.6,261.5" fill="none" stroke="#000" stroke-width="1" stroke-linejoin="round" stroke-linecap="round" stroke-linecap="butt"/>
<polyline points="111.8,334.5 117.8,334.5" fill="none" stroke="#ff0000" stroke-width="1" stroke-linejoin="round" stroke-linecap="round" stroke-linecap="butt"/>
<polyline points="129.5,334.5 138.5,316.5" fill="none" stroke="#ff0000" stroke-width="1" stroke-linejoin="round" stroke-linecap="round" stroke-linecap="butt"/>
<polyline points="106.7,348.5 131.5,348.5 140.0,343.5 146.0,340.5" fill="none" stroke="#ff0000" stroke-width="1" stroke-linejoin="round" stroke-linecap="round" stroke-linecap="butt"/>
<polyline points="92.2,367.5 136.6,367.5" fill="none" stroke="#00008b" stroke-width="1" stroke-linejoin="round" stroke-linecap="round" stroke-linecap="butt"/>
<polyline points="86.2,410.5 140.0,410.5" fill="none" stroke="#00008b" stroke-width="1" stroke-linejoin="round" stroke-linecap="round" stroke-linecap="butt"/>
<polyline points="99.9,430.5 133.2,430.5 184.4,446.5" fill="none" stroke="#b22222" stroke-width="1" stroke-linejoin="round" stroke-linecap="round" stroke-linecap="butt"/>
<polyline points="57.2,468.5 133.2,468.5 191.2,456.5" fill="none" stroke="#000" stroke-width="1" stroke-linejoin="round" stroke-linecap="round" stroke-linecap="butt"/>
<polyline points="57.2,480.5 133.0,480.5 143.7,481.5" fill="none" stroke="#555555" stroke-width="1" stroke-linejoin="round" stroke-linecap="round" stroke-linecap="butt"/>
<polyline points="57.2,490.5 134.5,490.5" fill="none" stroke="#8a8a8a" stroke-width="1" stroke-linejoin="round" stroke-linecap="round" stroke-linecap="butt"/>
<polyline points="134.5,491.0 143.7,499.7" fill="none" stroke="#8a8a8a" stroke-width="1" stroke-linejoin="round" stroke-linecap="round" />
<polyline points="57.2,500.5 133.7,500.5" fill="none" stroke="#d4ccc4" stroke-width="1" stroke-linejoin="round" stroke-linecap="round" stroke-linecap="butt"/>
<polyline points="133.7,501.5 136.9,504.5" fill="none" stroke="#d4ccc4" stroke-width="1" stroke-linejoin="round" stroke-linecap="round" />
<line x1="57.2" y1="510.5" x2="140" y2="510.5" stroke="#87cefa" stroke-width="3" />
<line x1="57.2" y1="510.5" x2="140" y2="510.5" stroke="#ffffff" stroke-width="1" />
<polyline points="67.4,527.5 129.8,527.5 174.1,464.5" fill="none" stroke="#ff9900" stroke-width="1" stroke-linejoin="round" stroke-linecap="round" stroke-linecap="butt"/>
<line x1="53.8" y1="557.5" x2="185.6" y2="557.5" stroke="#87cefa" stroke-width="3" />
<line x1="53.8" y1="557.5" x2="185.6" y2="557.5" stroke="#ffffff" stroke-width="1" />
<polyline points="49.5,571.5 192.0,571.5" fill="none" stroke="#999999" stroke-width="1" stroke-linejoin="round" stroke-linecap="round" stroke-linecap="butt"/>
<polyline points="40.1,582.5 121.2,582.5" fill="none" stroke="#555555" stroke-width="1" stroke-linejoin="round" stroke-linecap="round" stroke-linecap="butt"/>
<polyline points="129.8,582.5 140.0,582.5" fill="none" stroke="#555555" stroke-width="1" stroke-linejoin="round" stroke-linecap="round" stroke-linecap="butt"/>
<polyline points="74.3,594.5 140.0,594.5" fill="none" stroke="#333333" stroke-width="1" stroke-linejoin="round" stroke-linecap="round" stroke-linecap="butt"/>
<polyline points="29.9,605.5 216.0,605.5 218.3,601.5" fill="none" stroke="#ffb400" stroke-width="1" stroke-linejoin="round" stroke-linecap="round" stroke-linecap="butt"/>
<polyline points="137.8,625.5 147.6,623.5 157.5,607.5" fill="none" stroke="#000" stroke-width="1" stroke-linejoin="round" stroke-linecap="round" stroke-linecap="butt"/>
</svg>
</body></html>
